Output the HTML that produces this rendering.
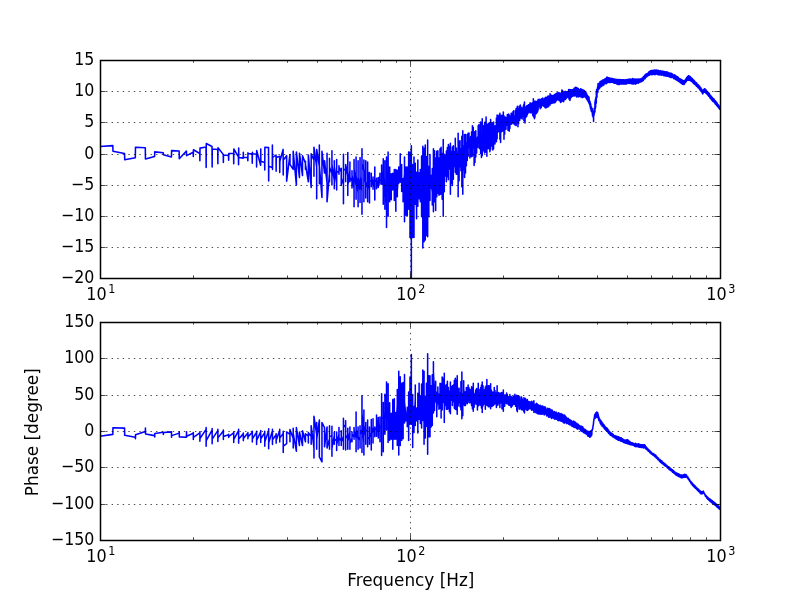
<!DOCTYPE html>
<html><head><meta charset="utf-8"><title>Bode plot</title>
<style>
html,body{margin:0;padding:0;background:#fff;}
body{width:800px;height:600px;overflow:hidden;}
svg{display:block;}
.t{font-family:"DejaVu Sans","Liberation Sans",sans-serif;font-size:16.67px;fill:#000;}
</style></head><body>
<svg width="800" height="600" viewBox="0 0 800 600">
<rect width="800" height="600" fill="#fff"/>
<defs><clipPath id="c1"><rect x="100.00" y="60.00" width="620.00" height="218.18"/></clipPath><clipPath id="c2"><rect x="100.00" y="321.82" width="620.00" height="218.18"/></clipPath></defs>
<path d="M100.00 146.50 L112.83 145.62 L112.98 151.25 L124.55 153.50 L124.70 159.75 L135.32 157.75 L135.47 147.25 L145.30 147.75 L145.45 159.00 L154.59 156.50 L154.74 151.88 L163.28 152.75 L163.43 154.75 L171.44 156.88 L171.59 150.62 L179.13 151.00 L179.28 158.75 L186.41 151.00 L186.56 155.62 L193.20 152.25 L193.32 156.50 L193.44 149.75 L199.77 153.50 L199.89 160.62 L200.01 148.12 L206.03 147.00 L206.15 167.50 L206.27 143.50 L212.02 146.50 L212.14 166.88 L212.26 149.00 L217.75 149.50 L217.87 163.75 L217.99 147.75 L223.24 154.38 L223.36 162.50 L223.48 155.00 L228.52 155.38 L228.64 160.25 L228.76 153.50 L233.60 153.25 L233.72 163.75 L233.84 149.00 L238.44 156.88 L238.56 164.75 L238.68 148.12 L238.80 157.50 L243.22 158.12 L243.34 152.25 L243.46 157.50 L247.73 157.25 L247.85 160.62 L247.97 152.75 L248.09 153.75 L252.14 153.75 L252.26 163.12 L252.38 152.25 L252.50 154.00 L256.48 154.00 L256.60 166.88 L256.72 150.62 L260.62 165.25 L260.74 149.00 L260.86 161.25 L264.64 162.50 L264.76 170.00 L264.88 147.25 L268.54 147.50 L268.66 181.00 L268.78 166.25 L272.27 167.50 L272.39 145.00 L272.51 169.38 L272.63 157.50 L276.02 155.00 L276.14 171.25 L276.26 157.50 L279.61 156.25 L279.73 172.50 L279.85 161.25 L283.11 149.38 L283.23 175.00 L283.35 160.00 L286.64 155.69 L286.64 181.18 L289.96 154.44 L289.96 164.31 L293.21 169.31 L293.21 151.32 L296.38 184.93 L296.38 151.94 L299.47 177.43 L299.47 153.19 L302.50 175.56 L302.50 155.69 L305.45 163.18 L305.45 161.32 L305.45 169.31 L305.45 164.24 L308.35 181.81 L308.35 155.07 L311.18 187.43 L311.18 153.82 L313.96 160.22 L313.96 176.18 L313.96 147.19 L316.68 167.16 L316.68 198.68 L316.68 149.44 L319.35 166.39 L319.35 183.68 L319.35 145.07 L319.35 165.06 L321.96 197.43 L321.96 151.32 L324.53 173.06 L324.53 160.69 L327.04 183.22 L327.04 153.19 L327.04 201.81 L329.51 173.03 L329.51 181.81 L329.51 158.19 L329.51 167.02 L331.94 173.43 L331.94 184.93 L331.94 150.69 L331.94 164.73 L334.32 180.73 L334.32 188.68 L334.32 160.69 L334.32 166.72 L336.66 183.78 L336.66 159.44 L336.66 189.93 L336.66 171.81 L338.96 171.87 L338.96 165.69 L338.96 174.31 L338.96 167.47 L341.23 171.92 L341.23 185.56 L341.23 168.19 L341.23 178.25 L343.45 184.48 L343.45 203.68 L343.45 154.19 L343.45 168.93 L345.64 170.30 L345.64 181.81 L345.64 164.44 L345.64 175.94 L347.80 164.16 L347.80 152.57 L347.80 195.56 L347.80 185.50 L349.92 170.67 L349.92 161.94 L349.92 181.81 L349.92 177.26 L352.00 181.25 L352.00 170.69 L352.00 188.06 L352.00 175.18 L354.06 188.60 L354.06 159.44 L354.06 206.81 L354.06 168.97 L356.08 186.24 L356.08 199.31 L356.08 156.94 L356.08 175.51 L358.08 193.17 L358.08 160.69 L358.08 206.81 L358.08 177.71 L360.04 190.99 L360.04 202.43 L360.04 157.57 L360.04 176.35 L361.98 191.37 L361.98 214.31 L361.98 148.82 L361.98 163.61 L363.89 170.60 L363.89 160.07 L363.89 201.81 L363.89 183.73 L365.77 168.17 L365.77 160.69 L365.77 198.06 L365.77 181.73 L367.63 187.49 L367.63 201.81 L367.63 161.94 L367.63 170.17 L369.46 190.47 L369.46 172.57 L369.46 203.06 L369.46 180.59 L371.27 181.10 L371.27 186.81 L371.27 173.19 L371.27 178.81 L373.05 185.24 L373.05 176.94 L373.05 189.31 L373.05 179.68 L374.81 187.27 L374.81 166.94 L374.81 199.93 L374.81 180.38 L376.55 181.68 L376.55 178.19 L376.55 188.68 L376.55 186.45 L378.26 180.84 L378.26 187.43 L378.26 177.57 L378.26 183.06 L379.96 176.14 L379.96 173.19 L379.96 184.31 L379.96 181.24 L381.63 179.36 L381.63 184.31 L381.63 165.07 L381.63 171.48 L383.28 186.37 L383.28 204.31 L383.28 158.82 L383.28 177.14 L384.91 197.23 L384.91 209.31 L384.91 160.69 L384.91 180.36 L386.53 201.99 L386.53 156.99 L386.53 227.43 L386.53 171.59 L388.12 191.44 L388.12 216.18 L388.12 151.94 L388.12 175.91 L389.69 194.28 L389.69 201.81 L389.69 166.94 L389.69 182.53 L391.25 189.34 L391.25 199.79 L391.25 173.72 L391.25 180.27 L392.79 184.47 L392.79 190.03 L392.79 173.19 L392.79 179.31 L394.31 182.74 L394.31 200.56 L394.31 169.44 L394.31 191.69 L395.82 179.65 L395.82 211.18 L395.82 169.44 L395.82 197.39 L397.30 178.19 L397.30 170.25 L397.30 196.81 L397.30 191.31 L398.77 170.71 L398.77 166.94 L398.77 183.20 L398.77 176.58 L400.23 165.34 L400.23 182.15 L400.23 153.82 L400.23 170.43 L401.67 170.76 L401.67 164.44 L401.67 191.58 L401.67 183.09 L403.09 188.56 L403.09 178.43 L403.09 201.81 L403.09 194.36 L404.50 173.34 L404.50 156.94 L404.50 221.81 L404.50 206.01 L405.90 181.72 L405.90 166.98 L405.90 215.33 L405.90 196.71 L407.28 182.23 L407.28 215.56 L407.28 166.94 L407.28 197.98 L408.65 176.58 L408.65 209.31 L408.65 151.94 L408.65 189.52 L410.00 169.44 L410.00 151.94 L410.00 237.43 L410.00 210.15 L411.34 218.28 L411.34 145.69 L411.34 277.43 L411.34 198.36 L412.67 214.78 L412.67 237.43 L412.67 164.58 L412.67 185.09 L413.98 216.99 L413.98 237.43 L413.98 156.94 L413.98 175.18 L415.28 188.65 L415.28 204.31 L415.28 163.19 L415.28 179.35 L416.57 208.40 L416.57 218.68 L416.57 172.33 L416.57 186.74 L417.84 191.33 L417.84 160.07 L417.84 206.18 L417.84 177.28 L419.11 191.62 L419.11 198.75 L419.11 172.83 L419.11 183.69 L420.36 191.77 L420.36 201.81 L420.36 169.44 L420.36 183.55 L421.60 169.19 L421.60 155.91 L421.60 216.81 L421.60 196.13 L422.83 219.30 L422.83 248.06 L422.83 146.32 L422.83 186.61 L424.05 215.13 L424.05 241.81 L424.05 148.17 L424.05 170.25 L425.26 202.45 L425.26 145.07 L425.26 239.93 L425.26 186.63 L426.45 216.43 L426.45 156.48 L426.45 235.56 L426.45 175.48 L427.64 201.48 L427.64 140.07 L427.64 236.81 L427.64 164.15 L428.82 182.10 L428.82 166.50 L428.82 216.81 L428.82 201.14 L429.98 169.57 L429.98 154.44 L429.98 200.56 L429.98 187.00 L431.14 178.80 L431.14 175.39 L431.14 188.19 L431.14 182.76 L432.28 192.45 L432.28 205.08 L432.28 168.42 L432.28 184.10 L433.42 185.81 L433.42 211.81 L433.42 148.82 L433.42 175.89 L434.55 179.95 L434.55 201.81 L434.55 150.69 L434.55 161.65 L435.66 176.92 L435.66 210.56 L435.66 158.11 L435.66 199.26 L436.77 170.16 L436.77 151.21 L436.77 196.81 L436.77 177.05 L437.87 162.03 L437.87 150.69 L437.87 193.14 L437.87 183.87 L438.96 179.99 L438.96 157.90 L438.96 195.32 L438.96 165.86 L440.04 182.61 L440.04 194.49 L440.04 148.82 L440.04 161.27 L441.11 156.81 L441.11 194.01 L441.11 147.28 L441.11 175.91 L442.18 184.14 L442.18 153.53 L442.18 199.31 L442.18 173.38 L443.24 189.94 L443.24 216.18 L443.24 139.44 L443.24 164.29 L444.28 181.40 L444.28 154.37 L444.28 191.81 L444.28 171.05 L445.32 170.15 L445.32 155.69 L445.32 176.08 L445.32 161.83 L446.35 159.09 L446.35 151.00 L446.35 181.64 L446.35 173.53 L447.38 158.25 L447.38 147.47 L447.38 176.81 L447.38 169.99 L448.39 152.91 L448.39 144.44 L448.39 179.80 L448.39 167.95 L449.40 152.33 L449.40 168.93 L449.40 146.46 L449.40 161.89 L450.40 153.43 L450.40 143.19 L450.40 194.31 L450.40 175.86 L451.40 157.88 L451.40 151.49 L451.40 183.24 L451.40 172.96 L452.38 154.85 L452.38 146.94 L452.38 185.39 L452.38 168.49 L453.36 158.79 L453.36 179.31 L453.36 145.81 L453.36 168.66 L454.33 158.27 L454.33 151.73 L454.33 166.39 L454.33 160.99 L455.30 152.12 L455.30 172.25 L455.30 138.19 L455.30 157.30 L456.26 156.75 L456.26 174.30 L456.26 148.07 L456.26 163.41 L457.21 162.95 L457.21 174.15 L457.21 154.74 L457.21 168.25 L458.15 146.41 L458.15 133.19 L458.15 196.81 L458.15 171.84 L459.09 155.40 L459.09 180.65 L459.09 141.38 L459.09 168.46 L460.02 145.94 L460.02 166.81 L460.02 140.69 L460.02 158.25 L460.95 153.44 L460.95 170.77 L460.95 148.65 L460.95 164.46 L461.87 149.01 L461.87 186.86 L461.87 136.31 L461.87 173.33 L462.78 149.50 L462.78 130.69 L462.78 194.31 L462.78 173.54 L463.69 151.38 L463.69 146.15 L463.69 169.98 L463.69 163.09 L464.59 149.15 L464.59 134.44 L464.59 177.44 L464.59 161.36 L465.48 158.27 L465.48 173.06 L465.48 134.44 L465.48 148.65 L466.37 158.08 L466.37 142.85 L466.37 165.70 L466.37 150.09 L467.25 150.11 L467.25 160.56 L467.25 134.44 L467.25 146.05 L468.13 151.45 L468.13 133.37 L468.13 156.20 L468.13 140.50 L469.00 143.28 L469.00 147.78 L469.00 132.99 L469.00 136.48 L469.87 147.23 L469.87 158.06 L469.87 141.97 L469.87 154.12 L470.73 140.49 L470.73 136.43 L470.73 156.13 L470.73 149.66 L471.58 137.76 L471.58 131.91 L471.58 156.81 L471.58 147.48 L472.43 137.49 L472.43 156.12 L472.43 125.69 L472.43 142.44 L473.28 133.08 L473.28 127.59 L473.28 147.76 L473.28 143.23 L474.12 141.96 L474.12 132.31 L474.12 165.56 L474.12 155.49 L474.95 155.10 L474.95 162.52 L474.95 131.76 L474.95 140.11 L475.78 148.50 L475.78 130.69 L475.78 156.96 L475.78 137.20 L476.60 149.72 L476.60 153.06 L476.60 139.55 L476.60 144.38 L477.42 142.99 L477.42 137.31 L477.42 147.41 L477.42 141.18 L478.23 136.47 L478.23 143.04 L478.23 125.69 L478.23 129.38 L479.04 139.49 L479.04 148.06 L479.04 124.52 L479.04 130.98 L479.85 143.46 L479.85 134.64 L479.85 148.75 L479.85 139.42 L480.64 146.43 L480.64 122.10 L480.64 153.43 L480.64 132.26 L481.44 149.59 L481.44 134.20 L481.44 157.43 L481.44 139.65 L482.23 139.90 L482.23 118.82 L482.23 155.62 L482.23 128.38 L483.01 138.17 L483.01 142.94 L483.01 129.18 L483.01 133.36 L483.79 139.96 L483.79 150.92 L483.79 125.69 L483.79 132.49 L484.57 144.30 L484.57 123.12 L484.57 153.06 L484.57 135.57 L485.34 141.96 L485.34 152.33 L485.34 121.71 L485.34 135.14 L486.11 126.12 L486.11 141.27 L486.11 116.94 L486.11 130.52 L486.87 133.86 L486.87 156.18 L486.87 124.38 L486.87 141.87 L487.63 134.69 L487.63 132.29 L487.63 142.85 L487.63 138.75 L488.38 132.89 L488.38 148.68 L488.38 123.19 L488.38 143.21 L489.13 127.52 L489.13 143.81 L489.13 123.19 L489.13 137.38 L489.88 130.59 L489.88 122.50 L489.88 151.81 L489.88 143.35 L490.62 126.32 L490.62 119.44 L490.62 149.61 L490.62 141.31 L491.36 132.14 L491.36 125.32 L491.36 144.79 L491.36 137.12 L492.09 132.74 L492.09 122.85 L492.09 146.34 L492.09 139.55 L492.82 132.93 L492.82 122.68 L492.82 149.93 L492.82 144.21 L493.55 130.13 L493.55 121.94 L493.55 148.79 L493.55 141.24 L494.27 129.85 L494.27 127.21 L494.27 136.48 L494.27 132.39 L494.99 131.74 L494.99 125.78 L494.99 144.06 L494.99 139.21 L495.70 131.85 L495.70 141.22 L495.70 128.64 L495.70 136.29 L496.41 123.83 L496.41 117.94 L496.41 141.81 L496.41 134.02 L497.12 120.65 L497.12 115.07 L497.12 138.66 L497.12 133.64 L497.82 123.83 L497.82 115.72 L497.82 130.12 L497.82 118.82 L498.52 124.83 L498.52 131.65 L499.22 123.56 L499.22 114.69 L499.22 130.59 L499.22 120.51 L499.91 128.68 L499.91 113.19 L499.91 139.34 L499.91 118.44 L500.60 131.24 L500.60 115.72 L500.60 142.43 L500.60 127.50 L501.28 126.36 L501.28 115.47 L501.28 132.02 L501.28 118.98 L501.97 121.44 L501.97 115.35 L501.97 129.71 L501.97 124.55 L502.64 118.75 L502.64 115.49 L502.64 131.10 L502.64 124.24 L503.32 119.15 L503.32 111.94 L503.32 128.90 L503.32 124.44 L503.99 122.04 L503.99 139.31 L503.99 115.79 L503.99 132.35 L504.66 123.62 L504.66 134.10 L504.66 116.94 L504.66 126.39 L505.32 120.14 L505.32 116.94 L505.32 129.29 L505.32 123.81 L505.99 129.31 L505.99 122.03 L506.64 122.00 L506.64 117.52 L506.64 123.81 L506.64 121.72 L507.30 121.28 L507.30 114.44 L507.30 125.26 L507.30 117.47 L507.95 122.13 L507.95 119.29 L507.95 130.17 L507.95 127.32 L508.60 119.81 L508.60 127.64 L508.60 114.13 L508.60 124.87 L509.25 124.26 L509.25 131.18 L509.25 114.92 L509.25 120.20 L509.89 124.74 L509.89 128.50 L509.89 115.75 L509.89 120.45 L510.53 122.23 L510.53 123.66 L510.53 118.18 L511.16 115.97 L511.16 113.19 L511.16 124.31 L511.16 121.36 L511.80 116.33 L511.80 113.29 L511.80 124.08 L511.80 120.78 L512.43 121.08 L512.43 122.47 L512.43 117.57 L512.43 120.55 L513.06 116.33 L513.06 111.58 L513.06 122.66 L513.06 120.00 L513.68 118.47 L513.68 123.71 L513.68 110.69 L513.68 116.46 L514.30 119.40 L514.30 116.01 L514.30 123.30 L514.92 119.03 L514.92 115.78 L514.92 124.93 L514.92 122.18 L515.54 115.38 L515.54 124.85 L515.54 110.29 L515.54 119.23 L516.15 112.81 L516.15 108.63 L516.15 125.61 L516.15 120.85 L516.76 110.67 L516.76 107.96 L516.76 119.99 L516.76 114.76 L517.37 110.27 L517.37 122.70 L517.37 106.32 L517.37 115.70 L517.97 116.56 L517.97 108.56 L517.97 126.81 L517.97 120.00 L518.58 115.94 L518.58 109.66 L518.58 123.65 L518.58 120.38 L519.18 111.64 L519.18 106.37 L519.18 118.77 L519.18 113.21 L519.77 113.24 L519.77 111.02 L519.77 120.23 L519.77 117.15 L520.37 107.88 L520.37 117.69 L520.37 105.07 L520.37 114.89 L520.96 109.97 L520.96 118.06 L520.96 106.97 L520.96 113.47 L521.55 114.66 L521.55 111.36 L521.55 118.06 L521.55 116.13 L522.14 116.74 L522.14 108.05 L522.14 119.00 L522.14 111.56 L522.72 113.51 L522.72 108.19 L522.72 114.98 L522.72 112.16 L523.30 112.50 L523.30 116.00 L523.30 105.96 L523.30 110.10 L523.88 115.45 L523.88 104.23 L523.88 120.74 L523.88 109.11 L524.46 116.86 L524.46 121.21 L524.46 101.94 L524.46 106.00 L525.03 112.12 L525.03 123.06 L525.03 108.87 L525.03 119.64 L525.60 110.43 L525.60 106.93 L525.60 117.06 L525.60 113.57 L526.17 111.20 L526.17 108.06 L526.17 116.93 L526.17 112.99 L526.74 109.00 L526.74 105.69 L526.74 116.21 L526.74 113.53 L527.30 106.80 L527.30 114.62 L527.87 110.00 L527.87 113.59 L527.87 105.23 L527.87 108.43 L528.43 104.89 L528.43 112.71 L528.98 109.40 L528.98 105.28 L528.98 111.00 L528.98 106.92 L529.54 106.06 L529.54 104.19 L529.54 111.25 L529.54 109.14 L530.09 108.70 L530.09 102.77 L530.09 112.83 L530.09 107.03 L530.64 106.11 L530.64 112.57 L531.19 108.94 L531.19 103.72 L531.19 113.06 L531.19 106.01 L531.74 106.30 L531.74 110.68 L532.28 109.50 L532.28 111.54 L532.28 102.74 L532.28 105.72 L532.82 112.66 L532.82 115.63 L532.82 105.49 L532.82 108.52 L533.36 110.59 L533.36 115.77 L533.36 98.82 L533.36 103.74 L533.90 110.63 L533.90 102.17 L533.90 117.22 L533.90 108.27 L534.43 114.41 L534.43 104.62 L534.43 118.68 L534.43 109.76 L534.97 106.12 L534.97 117.33 L534.97 101.12 L534.97 112.53 L535.50 107.26 L535.50 101.94 L535.50 110.71 L535.50 105.13 L536.03 104.67 L536.03 113.76 L536.03 101.54 L536.03 109.35 L536.55 105.90 L536.55 113.35 L536.55 103.63 L536.55 110.13 L537.08 109.14 L537.08 112.41 L537.08 101.15 L537.08 105.86 L537.60 107.11 L537.60 111.81 L537.60 101.31 L537.60 105.10 L538.12 106.39 L538.12 109.95 L538.12 99.44 L538.12 104.01 L538.64 106.11 L538.64 99.96 L539.16 99.30 L539.16 106.49 L539.67 99.53 L539.67 106.96 L540.19 104.78 L540.19 108.68 L540.19 99.77 L540.19 103.53 L540.70 105.82 L540.70 101.40 L540.70 107.98 L541.21 100.73 L541.21 98.92 L541.21 107.54 L541.21 104.16 L541.71 103.69 L541.71 105.97 L541.71 99.48 L542.22 100.95 L542.22 105.55 L542.22 98.62 L542.22 102.77 L542.72 100.44 L542.72 97.98 L542.72 105.39 L543.22 99.43 L543.22 105.67 L543.72 99.23 L543.72 106.22 L544.22 102.75 L544.22 101.08 L544.22 104.75 L544.72 103.35 L544.72 98.42 L544.72 107.08 L544.72 102.12 L545.21 100.49 L545.21 97.57 L545.21 107.79 L545.21 105.56 L545.70 105.06 L545.70 108.06 L545.70 97.24 L545.70 101.12 L546.19 103.17 L546.19 100.06 L546.19 107.75 L546.19 105.61 L546.68 100.86 L546.68 107.55 L547.17 101.10 L547.17 107.25 L547.17 96.95 L547.17 104.80 L547.65 103.51 L547.65 96.32 L548.14 106.58 L548.14 99.05 L548.62 99.02 L548.62 106.81 L548.62 95.99 L548.62 102.93 L549.10 102.26 L549.10 96.60 L549.58 101.45 L549.58 104.75 L549.58 97.78 L549.58 99.88 L550.05 96.08 L550.05 93.82 L550.05 105.10 L550.05 100.50 L550.53 98.79 L550.53 97.44 L550.53 100.18 L551.00 100.64 L551.00 95.15 L551.00 102.65 L551.00 97.65 L551.47 100.90 L551.47 103.57 L551.47 95.38 L551.47 97.24 L551.94 95.47 L551.94 102.28 L552.41 96.14 L552.41 102.96 L552.88 99.46 L552.88 95.79 L552.88 103.12 L552.88 98.83 L553.34 100.39 L553.34 95.64 L553.34 102.65 L553.81 100.93 L553.81 102.82 L553.81 95.55 L554.27 102.51 L554.27 94.87 L554.73 98.44 L554.73 96.04 L554.73 102.69 L554.73 100.31 L555.19 99.39 L555.19 94.21 L555.19 102.41 L555.19 96.92 L555.64 99.29 L555.64 94.27 L555.64 101.87 L555.64 95.95 L556.10 93.51 L556.10 101.01 L556.55 100.05 L556.55 93.41 L557.01 99.31 L557.01 93.57 L557.46 99.68 L557.46 92.86 L557.91 95.30 L557.91 99.37 L557.91 93.46 L557.91 97.34 L558.36 99.72 L558.36 93.68 L558.80 95.90 L558.80 92.46 L558.80 100.21 L559.25 94.23 L559.25 100.81 L559.69 97.70 L559.69 94.28 L560.13 95.41 L560.13 93.09 L560.13 97.46 L560.57 95.74 L560.57 102.43 L561.01 93.93 L561.01 100.44 L561.45 95.33 L561.45 101.75 L561.89 90.07 L561.89 96.86 L562.32 97.82 L562.32 90.35 L562.32 100.66 L562.32 93.32 L562.76 95.08 L562.76 91.14 L562.76 98.73 L562.76 93.44 L563.19 95.84 L563.19 101.43 L563.19 92.08 L563.19 99.04 L563.62 96.70 L563.62 92.67 L563.62 101.81 L563.62 98.21 L564.05 98.06 L564.05 93.68 L564.48 97.68 L564.48 91.81 L564.90 96.00 L564.90 91.45 L564.90 99.72 L564.90 94.59 L565.33 95.03 L565.33 91.43 L565.33 99.42 L565.75 92.74 L565.75 91.61 L565.75 97.55 L565.75 95.94 L566.18 92.25 L566.18 98.59 L566.60 92.33 L566.60 97.02 L567.02 97.04 L567.02 91.76 L567.44 94.75 L567.44 96.61 L567.44 91.73 L567.85 97.41 L567.85 91.48 L568.27 97.06 L568.27 91.44 L568.68 95.11 L568.68 97.87 L568.68 89.44 L568.68 92.18 L569.10 96.09 L569.10 93.25 L569.10 99.20 L569.51 97.78 L569.51 93.20 L569.51 98.77 L569.92 95.63 L569.92 100.56 L569.92 89.44 L569.92 93.36 L570.33 96.46 L570.33 93.75 L570.33 99.08 L570.33 96.36 L570.74 89.66 L570.74 96.62 L571.15 89.90 L571.15 97.58 L571.55 90.17 L571.55 96.24 L571.96 89.69 L571.96 96.23 L572.36 89.80 L572.36 96.45 L572.76 90.51 L572.76 95.40 L573.17 93.01 L573.17 89.41 L573.17 95.30 L573.17 93.55 L573.57 93.69 L573.57 89.89 L573.57 95.86 L573.96 88.78 L573.96 95.75 L574.36 92.61 L574.36 88.08 L574.36 95.51 L574.36 91.11 L574.76 89.34 L574.76 95.94 L575.15 88.26 L575.15 95.76 L575.55 93.57 L575.55 87.24 L575.55 95.36 L575.55 89.77 L575.94 87.89 L575.94 95.86 L576.33 92.35 L576.33 87.50 L576.33 95.75 L576.33 89.18 L576.72 89.00 L576.72 96.89 L577.11 87.83 L577.11 95.61 L577.50 93.60 L577.50 89.63 L577.50 95.64 L577.89 91.83 L577.89 89.72 L577.89 96.16 L578.28 94.95 L578.28 88.58 L578.28 97.03 L578.28 90.44 L578.66 89.92 L578.66 96.72 L579.05 89.63 L579.05 96.20 L579.43 92.36 L579.43 89.78 L579.43 95.92 L579.43 94.08 L579.81 91.19 L579.81 90.00 L579.81 96.19 L580.19 95.69 L580.19 90.03 L580.19 96.82 L580.57 92.14 L580.57 88.87 L580.57 96.77 L580.95 90.06 L580.95 96.10 L581.33 90.56 L581.33 89.32 L581.33 96.22 L581.33 94.38 L581.70 95.15 L581.70 89.99 L581.70 96.90 L582.08 97.53 L582.08 90.39 L582.45 96.18 L582.45 90.29 L582.83 91.99 L582.83 89.43 L582.83 97.56 L582.83 95.51 L583.20 94.00 L583.20 96.43 L583.20 90.95 L583.20 95.21 L583.57 96.95 L583.57 90.67 L583.94 97.09 L583.94 91.29 L584.31 91.64 L584.31 95.89 L584.31 90.42 L584.68 96.62 L584.68 90.96 L585.05 94.61 L585.05 96.20 L585.05 92.69 L585.41 95.99 L585.41 92.14 L585.78 93.07 L585.78 91.85 L585.78 97.72 L586.14 96.94 L586.14 93.64 L586.14 97.83 L586.51 95.09 L586.51 93.18 L586.51 98.97 L586.87 96.40 L586.87 94.56 L586.87 98.53 L586.87 95.60 L587.23 96.76 L587.23 99.90 L587.23 95.23 L587.23 97.08 L587.59 98.27 L587.59 95.90 L587.59 99.28 L587.95 99.90 L587.95 101.33 L587.95 96.89 L588.31 101.34 L588.31 96.35 L588.67 98.64 L588.67 96.78 L588.67 102.64 L589.02 103.20 L589.02 97.33 L589.38 103.93 L589.38 100.12 L589.73 103.01 L589.73 105.02 L589.73 101.25 L589.73 102.72 L590.09 103.15 L590.09 101.65 L590.09 106.56 L590.44 103.23 L590.44 108.70 L590.79 104.02 L590.79 108.35 L591.14 107.60 L591.14 106.78 L591.14 111.08 L591.49 106.67 L591.49 111.47 L591.84 109.87 L591.84 109.39 L591.84 111.59 L591.84 110.16 L592.19 112.50 L592.19 108.59 L592.19 113.28 L592.19 109.35 L592.54 115.92 L592.54 110.30 L592.88 115.71 L592.88 111.63 L593.23 113.23 L593.23 112.08 L593.23 117.65 L593.57 117.91 L593.57 121.43 L593.57 112.19 L593.57 114.52 L593.92 112.96 L593.92 111.86 L593.92 115.65 L594.26 112.27 L594.26 113.91 L594.26 108.11 L594.26 110.34 L594.60 111.84 L594.60 108.16 L594.60 112.84 L594.60 110.42 L594.95 107.83 L594.95 101.94 L594.95 111.81 L594.95 105.97 L595.29 104.82 L595.29 99.96 L595.29 108.77 L595.29 102.87 L595.63 105.13 L595.63 98.69 L595.63 107.23 L595.63 102.25 L595.96 98.46 L595.96 97.16 L595.96 103.91 L595.96 102.30 L596.30 99.48 L596.30 103.06 L596.30 91.94 L596.30 95.64 L596.64 89.63 L596.64 95.52 L596.97 97.23 L596.97 90.81 L597.31 90.89 L597.31 92.15 L597.31 88.64 L597.31 89.42 L597.64 86.88 L597.64 92.58 L597.98 90.98 L597.98 83.71 L598.31 84.34 L598.31 89.50 L598.64 85.78 L598.64 83.69 L598.64 88.57 L598.97 85.86 L598.97 83.21 L598.97 89.02 L598.97 88.07 L599.30 84.61 L599.30 83.91 L599.30 87.66 L599.30 85.83 L599.63 83.60 L599.63 88.32 L599.96 82.78 L599.96 81.81 L599.96 87.67 L599.96 83.26 L600.29 85.44 L600.29 82.77 L600.29 86.49 L600.29 85.63 L600.62 81.28 L600.62 86.67 L600.94 84.50 L600.94 82.52 L600.94 86.38 L600.94 84.27 L601.27 82.47 L601.27 81.22 L601.27 86.57 L601.27 84.25 L601.59 81.35 L601.59 86.35 L601.92 80.49 L601.92 86.06 L602.24 80.91 L602.24 84.95 L602.56 80.98 L602.56 85.31 L602.89 80.09 L602.89 85.44 L603.21 80.10 L603.21 84.21 L603.53 81.93 L603.53 80.91 L603.53 84.84 L603.53 81.68 L603.85 79.92 L603.85 84.94 L604.17 79.44 L604.17 83.45 L604.48 82.77 L604.48 79.95 L604.48 83.84 L604.80 82.41 L604.80 79.90 L604.80 83.49 L604.80 82.22 L605.12 83.18 L605.12 78.72 L605.43 82.38 L605.43 83.51 L605.43 79.76 L605.75 83.57 L605.75 78.59 L606.06 83.56 L606.06 78.63 L606.38 79.60 L606.38 83.76 L606.38 78.20 L606.69 81.10 L606.69 82.41 L606.69 77.35 L606.69 81.08 L607.00 78.21 L607.00 83.12 L607.00 77.29 L607.31 82.18 L607.31 77.54 L607.62 82.51 L607.62 77.35 L607.93 82.46 L607.93 78.22 L608.24 82.56 L608.24 77.72 L608.55 81.82 L608.55 77.97 L608.86 79.76 L608.86 81.80 L608.86 77.65 L608.86 78.59 L609.16 81.98 L609.16 78.35 L609.47 79.18 L609.47 82.36 L609.47 77.93 L609.78 82.56 L609.78 78.46 L610.08 79.36 L610.08 82.62 L610.08 78.78 L610.08 80.17 L610.39 78.58 L610.39 82.14 L610.69 78.73 L610.69 82.32 L610.99 82.03 L610.99 78.18 L611.29 79.71 L611.29 82.22 L611.29 79.10 L611.60 82.10 L611.60 78.55 L611.90 82.27 L611.90 79.34 L612.20 82.27 L612.20 79.39 L612.50 79.71 L612.50 81.86 L612.50 78.45 L612.50 81.10 L612.79 82.25 L612.79 78.83 L613.09 82.15 L613.09 79.01 L613.39 80.86 L613.39 79.56 L613.39 82.79 L613.39 80.47 L613.69 82.48 L613.69 79.04 L613.98 83.08 L613.98 78.84 L614.28 79.18 L614.28 83.02 L614.57 79.75 L614.57 83.26 L614.87 82.49 L614.87 79.96 L615.16 83.27 L615.16 80.16 L615.45 82.75 L615.45 79.21 L615.75 82.96 L615.75 79.40 L616.04 81.34 L616.04 83.47 L616.04 79.81 L616.33 79.57 L616.33 83.42 L616.62 80.06 L616.62 83.87 L616.91 79.35 L616.91 83.72 L617.20 79.83 L617.20 83.05 L617.49 79.71 L617.49 84.27 L617.78 82.67 L617.78 80.25 L617.78 83.51 L618.06 79.68 L618.06 84.36 L618.35 84.40 L618.35 79.53 L618.64 82.82 L618.64 79.89 L618.64 83.87 L618.92 81.55 L618.92 79.81 L618.92 84.22 L618.92 80.48 L619.21 84.37 L619.21 80.50 L619.49 81.21 L619.49 84.55 L619.49 79.80 L619.78 83.74 L619.78 79.60 L620.06 82.63 L620.06 83.37 L620.06 79.61 L620.34 83.74 L620.34 80.55 L620.62 82.31 L620.62 80.15 L620.62 83.31 L620.90 80.52 L620.90 84.11 L621.18 79.82 L621.18 84.31 L621.46 79.68 L621.46 83.46 L621.74 80.06 L621.74 83.14 L622.02 80.21 L622.02 83.83 L622.30 80.33 L622.30 83.50 L622.58 79.88 L622.58 83.79 L622.86 83.68 L622.86 80.37 L623.13 79.73 L623.13 84.13 L623.41 80.39 L623.41 83.05 L623.69 82.78 L623.69 83.57 L623.69 79.76 L623.96 83.44 L623.96 80.65 L624.24 81.23 L624.24 83.21 L624.24 80.46 L624.24 82.10 L624.51 84.02 L624.51 80.64 L624.78 83.23 L624.78 79.75 L625.06 82.39 L625.06 80.53 L625.06 83.93 L625.06 82.53 L625.33 80.38 L625.33 83.14 L625.60 83.52 L625.60 79.89 L625.87 82.25 L625.87 80.69 L625.87 84.10 L626.14 79.54 L626.14 83.16 L626.41 81.55 L626.41 80.32 L626.41 83.50 L626.68 81.40 L626.68 82.99 L626.68 80.52 L626.95 81.37 L626.95 79.91 L626.95 83.79 L626.95 81.74 L627.22 82.52 L627.22 80.53 L627.22 82.95 L627.22 81.94 L627.49 80.78 L627.49 79.47 L627.49 83.13 L627.49 81.48 L627.75 79.93 L627.75 83.12 L628.02 79.54 L628.02 83.04 L628.29 79.96 L628.29 83.31 L628.55 79.44 L628.55 82.70 L628.82 79.29 L628.82 83.08 L629.08 79.82 L629.08 83.54 L629.35 81.28 L629.35 79.18 L629.35 83.10 L629.61 79.18 L629.61 82.42 L629.87 81.46 L629.87 79.21 L629.87 82.47 L630.14 79.02 L630.14 83.35 L630.40 81.96 L630.40 79.27 L630.40 82.75 L630.40 81.30 L630.66 79.56 L630.66 82.53 L630.92 80.52 L630.92 79.79 L630.92 82.88 L631.18 82.89 L631.18 80.01 L631.44 83.74 L631.44 79.81 L631.70 82.85 L631.70 79.32 L631.96 83.79 L631.96 79.77 L632.22 81.42 L632.22 82.92 L632.22 78.85 L632.22 81.76 L632.48 81.18 L632.48 78.64 L632.48 83.71 L632.48 82.50 L632.74 78.67 L632.74 84.00 L632.99 78.86 L632.99 83.13 L633.25 79.11 L633.25 84.00 L633.51 79.17 L633.51 83.66 L633.76 83.84 L633.76 79.49 L634.02 83.38 L634.02 78.91 L634.27 82.94 L634.27 83.57 L634.27 79.50 L634.53 83.11 L634.53 79.80 L634.78 83.21 L634.78 79.15 L635.03 81.88 L635.03 83.29 L635.03 79.82 L635.29 84.20 L635.29 79.35 L635.54 83.96 L635.54 79.32 L635.79 83.68 L635.79 80.01 L636.04 82.14 L636.04 83.80 L636.04 78.93 L636.04 81.54 L636.29 80.04 L636.29 82.89 L636.29 79.30 L636.54 83.55 L636.54 80.15 L636.79 82.77 L636.79 79.49 L637.04 80.82 L637.04 82.94 L637.04 79.21 L637.29 81.94 L637.29 79.96 L637.29 82.93 L637.54 78.99 L637.54 82.66 L637.79 79.55 L637.79 82.50 L638.04 79.80 L638.04 82.70 L638.28 80.91 L638.28 79.40 L638.28 83.33 L638.53 82.04 L638.53 82.75 L638.53 79.22 L638.53 81.15 L638.78 82.50 L638.78 78.99 L639.02 79.10 L639.02 82.25 L639.27 81.20 L639.27 79.60 L639.27 82.41 L639.51 81.26 L639.51 79.24 L639.51 82.16 L639.76 80.01 L639.76 82.32 L640.00 81.19 L640.00 78.98 L640.00 82.18 L640.00 80.27 L640.24 81.75 L640.24 79.21 L640.49 79.47 L640.49 81.85 L640.73 79.62 L640.73 78.94 L640.73 81.52 L640.97 80.19 L640.97 78.82 L640.97 81.13 L640.97 79.72 L641.22 78.88 L641.22 81.74 L641.46 78.91 L641.46 81.53 L641.70 79.05 L641.70 80.79 L641.94 78.31 L641.94 81.49 L642.18 79.45 L642.18 78.79 L642.18 81.33 L642.18 80.70 L642.42 77.75 L642.42 80.45 L642.66 79.79 L642.66 78.32 L642.66 80.92 L642.90 79.13 L642.90 78.13 L642.90 80.62 L642.90 79.86 L643.14 77.07 L643.14 79.60 L643.37 77.77 L643.37 80.38 L643.61 77.65 L643.61 79.34 L643.61 76.57 L643.85 77.68 L643.85 77.19 L643.85 78.75 L644.08 75.94 L644.08 79.08 L644.32 76.84 L644.32 79.07 L644.56 75.94 L644.56 79.00 L644.79 75.32 L644.79 78.55 L645.03 76.11 L645.03 77.69 L645.26 74.81 L645.26 78.45 L645.50 76.08 L645.50 74.52 L645.50 77.46 L645.73 75.47 L645.73 77.01 L645.96 76.18 L645.96 75.28 L645.96 77.34 L645.96 75.80 L646.20 74.01 L646.20 76.85 L646.43 76.31 L646.43 77.08 L646.43 74.10 L646.43 76.18 L646.66 76.30 L646.66 73.72 L646.89 76.25 L646.89 76.82 L646.89 74.56 L647.13 75.72 L647.13 76.36 L647.13 74.40 L647.36 75.03 L647.36 75.90 L647.36 73.58 L647.59 76.07 L647.59 73.57 L647.82 74.20 L647.82 75.60 L647.82 73.59 L647.82 74.09 L648.05 75.45 L648.05 73.19 L648.28 74.81 L648.28 75.37 L648.28 73.31 L648.28 74.91 L648.51 75.31 L648.51 72.24 L648.74 75.47 L648.74 72.26 L648.96 75.00 L648.96 71.87 L649.19 72.48 L649.19 74.43 L649.42 71.63 L649.42 74.73 L649.65 75.01 L649.65 71.81 L649.87 71.22 L649.87 74.07 L650.10 71.23 L650.10 74.09 L650.33 72.35 L650.33 70.96 L650.33 74.16 L650.33 72.89 L650.55 73.78 L650.55 70.82 L650.55 74.53 L650.55 71.87 L650.78 72.48 L650.78 71.23 L650.78 74.52 L651.00 70.81 L651.00 74.32 L651.23 71.04 L651.23 74.37 L651.45 72.90 L651.45 71.37 L651.45 74.38 L651.67 73.19 L651.67 74.40 L651.67 71.17 L651.90 74.72 L651.90 71.18 L652.12 71.02 L652.12 73.94 L652.12 70.35 L652.34 72.55 L652.34 74.76 L652.34 70.79 L652.34 73.01 L652.57 71.17 L652.57 73.77 L652.79 72.50 L652.79 71.35 L652.79 74.47 L652.79 72.38 L653.01 71.44 L653.01 70.82 L653.01 74.17 L653.01 72.03 L653.23 71.10 L653.23 73.74 L653.45 72.60 L653.45 70.57 L653.45 74.19 L653.45 72.04 L653.67 70.35 L653.67 73.64 L653.89 70.58 L653.89 74.04 L654.11 70.93 L654.11 73.75 L654.33 73.21 L654.33 71.11 L654.33 74.62 L654.33 71.76 L654.55 73.18 L654.55 73.96 L654.55 70.14 L654.55 72.21 L654.77 71.78 L654.77 73.86 L654.77 70.63 L654.77 71.59 L654.99 70.94 L654.99 73.55 L654.99 70.20 L655.21 72.13 L655.21 74.14 L655.21 71.14 L655.42 74.55 L655.42 70.18 L655.64 72.24 L655.64 73.91 L655.64 70.26 L655.64 71.20 L655.86 70.35 L655.86 73.60 L656.08 69.99 L656.08 74.15 L656.29 72.53 L656.29 70.53 L656.29 73.73 L656.29 71.26 L656.51 70.15 L656.51 73.50 L656.72 70.45 L656.72 73.70 L656.94 71.09 L656.94 73.91 L657.15 73.14 L657.15 71.15 L657.15 73.64 L657.37 71.27 L657.37 74.27 L657.58 70.68 L657.58 74.41 L657.80 72.30 L657.80 74.07 L657.80 70.26 L658.01 74.73 L658.01 70.75 L658.22 74.37 L658.22 70.92 L658.44 74.43 L658.44 71.38 L658.65 70.40 L658.65 73.80 L658.86 70.87 L658.86 74.68 L659.07 74.67 L659.07 70.83 L659.28 73.15 L659.28 74.92 L659.28 71.44 L659.49 74.69 L659.49 71.22 L659.71 73.59 L659.71 74.37 L659.71 70.91 L659.92 74.31 L659.92 70.76 L660.13 72.78 L660.13 71.24 L660.13 73.88 L660.13 72.91 L660.34 73.47 L660.34 70.97 L660.34 74.11 L660.34 71.47 L660.55 72.23 L660.55 74.63 L660.55 71.10 L660.75 70.83 L660.75 74.74 L660.96 72.90 L660.96 71.86 L660.96 74.00 L661.17 72.55 L661.17 71.82 L661.17 74.34 L661.17 73.30 L661.38 73.08 L661.38 71.71 L661.38 75.17 L661.38 72.62 L661.59 73.67 L661.59 74.43 L661.59 71.62 L661.59 73.88 L661.80 73.22 L661.80 74.37 L661.80 71.75 L661.80 72.94 L662.00 73.91 L662.00 74.36 L662.00 71.84 L662.00 73.16 L662.21 74.29 L662.21 71.08 L662.42 73.06 L662.42 74.94 L662.42 71.22 L662.62 74.12 L662.62 75.06 L662.62 71.87 L662.62 73.87 L662.83 72.05 L662.83 75.08 L663.03 71.81 L663.03 74.61 L663.24 71.28 L663.24 74.68 L663.45 71.45 L663.45 75.27 L663.65 71.56 L663.65 74.90 L663.85 73.11 L663.85 72.10 L663.85 75.72 L663.85 73.33 L664.06 71.77 L664.06 75.55 L664.26 74.28 L664.26 71.98 L664.26 74.72 L664.26 72.75 L664.47 75.27 L664.47 71.62 L664.67 73.15 L664.67 75.65 L664.67 72.44 L664.67 74.17 L664.87 75.55 L664.87 72.14 L665.07 73.61 L665.07 75.52 L665.07 72.32 L665.28 75.47 L665.28 72.07 L665.48 76.07 L665.48 72.83 L665.68 75.12 L665.68 72.61 L665.88 72.72 L665.88 75.10 L665.88 71.92 L666.08 74.23 L666.08 75.81 L666.08 71.86 L666.28 75.10 L666.28 75.68 L666.28 72.20 L666.28 74.30 L666.48 75.92 L666.48 72.71 L666.68 75.74 L666.68 72.14 L666.88 72.61 L666.88 75.42 L667.08 72.10 L667.08 76.16 L667.28 75.43 L667.28 72.46 L667.48 76.14 L667.48 72.44 L667.68 76.12 L667.68 73.27 L667.88 74.24 L667.88 75.80 L667.88 72.41 L668.08 74.53 L668.08 76.31 L668.08 72.60 L668.28 72.63 L668.28 75.87 L668.47 74.09 L668.47 73.49 L668.47 76.52 L668.67 73.94 L668.67 73.22 L668.67 76.39 L668.87 75.39 L668.87 73.61 L668.87 76.17 L668.87 74.70 L669.06 73.39 L669.06 76.57 L669.26 73.59 L669.26 76.39 L669.46 75.00 L669.46 73.00 L669.46 76.99 L669.65 74.46 L669.65 73.33 L669.65 76.63 L669.85 75.92 L669.85 73.69 L669.85 76.98 L669.85 75.33 L670.04 73.80 L670.04 76.32 L670.24 74.57 L670.24 73.62 L670.24 76.41 L670.43 74.78 L670.43 73.81 L670.43 76.97 L670.63 75.54 L670.63 74.03 L670.63 76.38 L670.63 74.50 L670.82 73.31 L670.82 77.38 L671.02 73.55 L671.02 76.77 L671.21 73.39 L671.21 76.73 L671.40 74.18 L671.40 77.27 L671.60 75.72 L671.60 74.26 L671.60 77.53 L671.79 74.30 L671.79 76.94 L671.98 76.20 L671.98 74.57 L671.98 76.55 L671.98 75.33 L672.17 75.38 L672.17 77.27 L672.17 73.72 L672.36 74.28 L672.36 77.54 L672.56 74.72 L672.56 77.43 L672.75 76.94 L672.75 74.26 L672.75 77.48 L672.75 76.43 L672.94 75.15 L672.94 77.39 L673.13 75.18 L673.13 77.49 L673.32 75.01 L673.32 77.27 L673.51 75.43 L673.51 77.60 L673.70 75.38 L673.70 78.10 L673.89 78.61 L673.89 75.54 L674.08 77.47 L674.08 78.84 L674.08 74.96 L674.08 78.11 L674.27 78.09 L674.27 75.28 L674.46 76.51 L674.46 78.81 L674.46 74.87 L674.46 75.49 L674.65 75.91 L674.65 78.61 L674.83 75.48 L674.83 78.52 L675.02 75.51 L675.02 78.28 L675.21 75.59 L675.21 78.92 L675.40 77.06 L675.40 78.70 L675.40 75.55 L675.59 79.40 L675.59 76.45 L675.77 76.81 L675.77 79.09 L675.96 76.32 L675.96 78.99 L676.15 76.08 L676.15 78.89 L676.33 79.38 L676.33 77.21 L676.33 79.92 L676.33 78.83 L676.52 78.97 L676.52 80.12 L676.52 76.53 L676.52 77.33 L676.70 80.21 L676.70 77.19 L676.89 77.72 L676.89 79.49 L676.89 77.41 L677.08 80.08 L677.08 77.57 L677.26 78.22 L677.26 80.15 L677.26 76.78 L677.45 78.31 L677.45 79.93 L677.45 76.87 L677.63 77.21 L677.63 80.53 L677.81 77.20 L677.81 80.30 L678.00 79.18 L678.00 80.38 L678.00 77.57 L678.18 77.34 L678.18 81.32 L678.37 79.84 L678.37 78.00 L678.37 81.05 L678.55 79.86 L678.55 78.52 L678.55 80.57 L678.73 78.71 L678.73 81.27 L678.91 78.66 L678.91 81.60 L679.10 80.38 L679.10 78.47 L679.10 80.85 L679.10 80.10 L679.28 79.25 L679.28 81.25 L679.46 79.50 L679.46 78.46 L679.46 81.21 L679.64 79.37 L679.64 81.44 L679.83 79.17 L679.83 82.07 L680.01 80.48 L680.01 79.32 L680.01 81.99 L680.19 79.82 L680.19 82.64 L680.37 79.90 L680.37 79.10 L680.37 82.02 L680.55 79.73 L680.55 82.10 L680.73 82.34 L680.73 79.85 L680.73 82.86 L680.91 79.93 L680.91 82.52 L681.09 80.12 L681.09 82.92 L681.09 79.28 L681.09 81.09 L681.27 83.15 L681.27 80.21 L681.45 81.82 L681.45 82.77 L681.45 79.99 L681.45 80.59 L681.63 81.99 L681.63 80.03 L681.63 82.72 L681.63 80.86 L681.81 81.07 L681.81 80.70 L681.81 83.03 L681.81 81.36 L681.99 80.05 L681.99 83.16 L682.16 80.09 L682.16 82.89 L682.34 80.16 L682.34 84.17 L682.52 81.04 L682.52 84.14 L682.70 81.72 L682.70 80.42 L682.70 84.13 L682.87 82.19 L682.87 80.66 L682.87 84.31 L683.05 83.61 L683.05 81.06 L683.23 80.63 L683.23 84.23 L683.41 84.29 L683.41 80.84 L683.58 84.53 L683.58 80.81 L683.76 83.39 L683.76 84.18 L683.76 80.91 L683.76 83.60 L683.94 81.79 L683.94 83.75 L683.94 80.88 L683.94 81.65 L684.11 83.77 L684.11 84.51 L684.11 80.87 L684.29 83.79 L684.29 80.78 L684.46 81.45 L684.46 82.89 L684.46 80.91 L684.64 83.77 L684.64 81.11 L684.81 81.32 L684.81 82.80 L684.81 80.82 L684.81 82.23 L684.99 82.23 L684.99 80.84 L685.16 80.40 L685.16 81.91 L685.34 79.59 L685.34 82.52 L685.51 79.96 L685.51 82.51 L685.68 81.00 L685.68 80.02 L685.68 81.70 L685.68 80.53 L685.86 78.86 L685.86 80.86 L686.03 78.84 L686.03 81.42 L686.20 79.92 L686.20 79.10 L686.20 81.60 L686.38 78.73 L686.38 81.20 L686.55 77.81 L686.55 80.51 L686.72 78.75 L686.72 77.62 L686.72 80.21 L686.89 78.22 L686.89 79.53 L687.07 78.86 L687.07 80.34 L687.07 78.05 L687.07 78.86 L687.24 79.39 L687.24 79.94 L687.24 77.77 L687.41 79.05 L687.41 80.28 L687.41 77.12 L687.41 78.89 L687.58 77.73 L687.58 77.35 L687.58 79.25 L687.75 76.26 L687.75 79.55 L687.92 78.76 L687.92 76.63 L687.92 80.26 L688.09 78.97 L688.09 76.72 L688.09 80.32 L688.26 76.96 L688.26 75.96 L688.26 79.16 L688.26 77.40 L688.43 78.95 L688.43 75.97 L688.43 79.79 L688.60 76.12 L688.60 79.47 L688.77 80.19 L688.77 75.99 L688.94 79.11 L688.94 76.35 L689.11 75.89 L689.11 79.68 L689.28 78.37 L689.28 76.97 L689.28 79.31 L689.45 78.16 L689.45 77.11 L689.45 80.03 L689.45 78.07 L689.62 76.81 L689.62 79.23 L689.79 76.86 L689.79 79.36 L689.96 78.24 L689.96 77.19 L689.96 80.32 L689.96 79.22 L690.13 76.52 L690.13 80.32 L690.29 77.25 L690.29 80.21 L690.46 80.53 L690.46 76.86 L690.63 78.90 L690.63 79.99 L690.63 77.84 L690.63 78.45 L690.80 79.75 L690.80 77.70 L690.80 80.93 L690.96 77.47 L690.96 80.18 L691.13 78.86 L691.13 78.21 L691.13 80.30 L691.30 79.89 L691.30 81.23 L691.30 78.20 L691.46 81.22 L691.46 77.98 L691.63 80.32 L691.63 81.40 L691.63 78.73 L691.80 81.57 L691.80 79.11 L691.96 80.15 L691.96 81.06 L691.96 78.47 L692.13 81.77 L692.13 78.73 L692.29 78.58 L692.29 81.70 L692.46 80.68 L692.46 78.93 L692.46 82.33 L692.62 81.72 L692.62 79.49 L692.79 80.32 L692.79 82.01 L692.79 79.32 L692.95 82.04 L692.95 82.53 L692.95 80.11 L693.12 80.55 L693.12 82.59 L693.12 79.48 L693.12 80.02 L693.28 83.15 L693.28 80.60 L693.45 82.54 L693.45 80.58 L693.61 83.57 L693.61 80.99 L693.77 83.60 L693.77 80.09 L693.94 81.64 L693.94 83.45 L693.94 81.08 L693.94 81.84 L694.10 83.81 L694.10 80.47 L694.26 82.55 L694.26 83.56 L694.26 81.64 L694.43 84.21 L694.43 80.81 L694.59 83.80 L694.59 84.30 L694.59 81.12 L694.59 81.93 L694.75 84.56 L694.75 81.37 L694.91 82.41 L694.91 83.90 L694.91 82.13 L695.08 83.96 L695.08 82.38 L695.24 84.81 L695.24 81.91 L695.40 84.93 L695.40 82.72 L695.56 84.03 L695.56 84.62 L695.56 82.89 L695.56 84.06 L695.72 84.96 L695.72 82.26 L695.88 84.30 L695.88 84.92 L695.88 82.52 L695.88 84.31 L696.04 84.94 L696.04 82.44 L696.21 84.29 L696.21 85.57 L696.21 83.48 L696.37 86.13 L696.37 83.64 L696.53 83.35 L696.53 85.59 L696.53 82.79 L696.69 86.15 L696.69 83.16 L696.85 85.80 L696.85 83.83 L697.01 84.28 L697.01 86.34 L697.17 83.98 L697.17 86.69 L697.33 83.99 L697.33 86.20 L697.48 84.42 L697.48 86.99 L697.64 85.43 L697.64 84.86 L697.64 86.72 L697.64 86.11 L697.80 85.42 L697.80 84.30 L697.80 86.77 L697.96 85.30 L697.96 87.74 L698.12 85.64 L698.12 85.01 L698.12 87.54 L698.12 87.08 L698.28 86.89 L698.28 87.35 L698.28 85.18 L698.44 88.02 L698.44 85.74 L698.59 86.77 L698.59 87.54 L698.59 85.97 L698.75 88.02 L698.75 85.27 L698.91 88.42 L698.91 85.62 L699.07 88.23 L699.07 85.90 L699.22 86.66 L699.22 88.53 L699.22 85.90 L699.38 87.40 L699.38 88.59 L699.38 86.78 L699.38 88.12 L699.54 86.64 L699.54 88.51 L699.54 86.14 L699.69 89.67 L699.69 87.08 L699.85 88.00 L699.85 87.39 L699.85 89.74 L700.01 87.03 L700.01 90.03 L700.16 87.46 L700.16 90.20 L700.32 90.05 L700.32 88.18 L700.47 89.97 L700.47 87.34 L700.63 88.46 L700.63 90.18 L700.63 87.87 L700.79 88.66 L700.79 90.19 L700.79 87.65 L700.79 89.15 L700.94 89.71 L700.94 90.88 L700.94 88.35 L701.10 90.86 L701.10 91.41 L701.10 89.25 L701.25 91.38 L701.25 89.16 L701.41 90.90 L701.41 88.73 L701.56 90.33 L701.56 91.73 L701.56 89.42 L701.56 90.63 L701.71 90.66 L701.71 91.80 L701.71 89.83 L701.87 92.16 L701.87 89.61 L702.02 92.44 L702.02 89.87 L702.18 93.00 L702.18 90.01 L702.33 91.99 L702.33 92.44 L702.33 90.33 L702.48 92.18 L702.48 93.44 L702.48 91.13 L702.64 92.72 L702.64 90.82 L702.64 93.32 L702.79 91.85 L702.79 93.97 L702.79 91.19 L702.94 91.53 L702.94 90.76 L702.94 93.56 L703.10 90.96 L703.10 92.92 L703.25 90.32 L703.25 91.85 L703.40 90.57 L703.40 90.17 L703.40 92.26 L703.55 90.87 L703.55 89.69 L703.55 91.82 L703.55 90.68 L703.70 91.66 L703.70 90.03 L703.70 92.04 L703.70 91.54 L703.86 92.36 L703.86 89.65 L704.01 91.41 L704.01 89.60 L704.16 90.26 L704.16 91.76 L704.16 89.10 L704.16 91.29 L704.31 90.30 L704.31 91.80 L704.31 89.24 L704.31 90.11 L704.46 91.41 L704.46 89.17 L704.61 92.13 L704.61 89.25 L704.76 88.83 L704.76 91.44 L704.91 90.90 L704.91 89.56 L704.91 91.95 L704.91 90.63 L705.07 89.90 L705.07 91.80 L705.07 88.90 L705.07 89.57 L705.22 91.95 L705.22 89.48 L705.37 92.05 L705.37 89.69 L705.52 91.05 L705.52 91.91 L705.52 90.35 L705.52 91.21 L705.67 92.64 L705.67 90.30 L705.82 91.41 L705.82 89.69 L705.82 92.44 L705.82 90.20 L705.96 92.60 L705.96 90.34 L706.11 91.40 L706.11 93.59 L706.11 90.82 L706.11 92.89 L706.26 93.23 L706.26 90.04 L706.41 91.26 L706.41 93.71 L706.56 93.12 L706.56 93.68 L706.56 90.89 L706.71 92.62 L706.71 93.14 L706.71 90.74 L706.71 92.13 L706.86 93.62 L706.86 91.51 L707.01 93.56 L707.01 91.83 L707.15 92.32 L707.15 93.52 L707.15 91.90 L707.30 91.58 L707.30 94.62 L707.45 93.18 L707.45 91.72 L707.45 94.31 L707.45 92.40 L707.60 92.42 L707.60 91.91 L707.60 93.97 L707.60 93.06 L707.75 92.11 L707.75 94.61 L707.89 92.18 L707.89 94.66 L708.04 93.15 L708.04 94.82 L708.19 92.93 L708.19 95.41 L708.33 93.86 L708.33 92.40 L708.33 95.29 L708.33 93.07 L708.48 95.01 L708.48 93.37 L708.48 95.31 L708.63 95.66 L708.63 92.76 L708.63 96.26 L708.77 92.95 L708.77 96.00 L708.92 93.36 L708.92 96.47 L709.07 95.92 L709.07 94.35 L709.07 96.25 L709.21 93.57 L709.21 96.05 L709.36 96.25 L709.36 93.84 L709.36 96.79 L709.36 96.34 L709.50 96.63 L709.50 94.59 L709.65 95.68 L709.65 95.11 L709.65 97.29 L709.79 95.17 L709.79 97.58 L709.94 96.33 L709.94 97.94 L709.94 95.04 L710.08 97.15 L710.08 94.87 L710.23 97.40 L710.23 95.16 L710.37 97.39 L710.37 95.54 L710.52 98.57 L710.52 95.51 L710.66 97.20 L710.66 96.42 L710.66 98.57 L710.66 97.23 L710.81 96.72 L710.81 98.53 L710.81 96.32 L710.81 96.84 L710.95 99.03 L710.95 96.43 L711.10 97.26 L711.10 98.51 L711.10 95.96 L711.24 96.54 L711.24 98.79 L711.38 99.52 L711.38 96.67 L711.53 99.14 L711.53 96.70 L711.67 100.03 L711.67 96.74 L711.81 98.81 L711.81 97.34 L711.81 99.71 L711.81 98.52 L711.96 97.26 L711.96 99.36 L712.10 97.23 L712.10 99.83 L712.24 98.75 L712.24 99.88 L712.24 98.08 L712.38 100.59 L712.38 98.23 L712.53 99.10 L712.53 98.68 L712.53 100.66 L712.53 99.99 L712.67 98.41 L712.67 101.18 L712.81 99.77 L712.81 101.54 L712.81 98.60 L712.81 100.84 L712.95 100.07 L712.95 100.63 L712.95 98.32 L712.95 99.62 L713.09 100.73 L713.09 98.85 L713.24 101.56 L713.24 98.62 L713.38 101.54 L713.38 98.96 L713.52 101.37 L713.52 98.83 L713.66 100.48 L713.66 101.82 L713.66 99.75 L713.80 101.99 L713.80 99.76 L713.94 102.28 L713.94 99.29 L714.08 102.07 L714.08 100.00 L714.22 101.98 L714.22 99.28 L714.22 102.56 L714.36 101.14 L714.36 100.50 L714.36 102.17 L714.50 101.15 L714.50 100.37 L714.50 102.69 L714.64 100.72 L714.64 102.40 L714.78 101.80 L714.78 103.33 L714.78 100.99 L714.78 102.85 L714.92 101.42 L714.92 102.67 L714.92 100.40 L715.06 102.03 L715.06 103.69 L715.06 100.62 L715.20 103.95 L715.20 100.65 L715.34 103.71 L715.34 101.43 L715.48 102.09 L715.48 103.53 L715.48 101.50 L715.48 103.02 L715.62 103.73 L715.62 101.15 L715.76 103.89 L715.76 101.82 L715.90 104.35 L715.90 101.72 L716.04 103.35 L716.04 104.66 L716.04 102.42 L716.18 104.80 L716.18 102.53 L716.31 105.03 L716.31 102.19 L716.45 102.37 L716.45 104.52 L716.59 103.27 L716.59 105.54 L716.73 103.89 L716.73 102.37 L716.73 105.38 L716.87 104.82 L716.87 103.05 L717.01 104.54 L717.01 105.91 L717.01 103.63 L717.14 103.47 L717.14 105.99 L717.28 103.79 L717.28 105.87 L717.42 104.50 L717.42 103.71 L717.42 105.53 L717.55 104.21 L717.55 106.32 L717.69 104.95 L717.69 104.61 L717.69 106.57 L717.69 105.21 L717.83 104.64 L717.83 106.38 L717.97 105.84 L717.97 104.80 L717.97 106.54 L718.10 104.44 L718.10 106.96 L718.24 106.70 L718.24 105.18 L718.24 107.61 L718.37 106.37 L718.37 105.58 L718.37 107.30 L718.51 107.41 L718.51 105.75 L718.51 107.75 L718.65 107.17 L718.65 107.66 L718.65 105.18 L718.78 105.58 L718.78 107.58 L718.92 107.63 L718.92 106.52 L718.92 108.27 L718.92 107.44 L719.05 105.91 L719.05 107.93 L719.19 108.46 L719.19 105.95 L719.33 108.14 L719.33 108.32 L719.33 107.17 L719.46 108.50 L719.46 106.61 L719.60 108.75 L719.60 109.15 L719.60 107.51 L719.73 109.07 L719.73 106.96 L719.87 109.22 L719.87 107.30 L720.00 109.28 L720.00 106.67" fill="none" stroke="#0000ff" stroke-width="1.55" stroke-linejoin="round" stroke-linecap="square" clip-path="url(#c1)"/>
<path d="M100.0 247.5 H720.0" stroke="#000" stroke-width="0.7" stroke-dasharray="1.39 4.17" stroke-dashoffset="-0.5" fill="none"/>
<path d="M100.0 216.5 H720.0" stroke="#000" stroke-width="0.7" stroke-dasharray="1.39 4.17" stroke-dashoffset="-0.5" fill="none"/>
<path d="M100.0 185.5 H720.0" stroke="#000" stroke-width="0.7" stroke-dasharray="1.39 4.17" stroke-dashoffset="-0.5" fill="none"/>
<path d="M100.0 154.5 H720.0" stroke="#000" stroke-width="0.7" stroke-dasharray="1.39 4.17" stroke-dashoffset="-0.5" fill="none"/>
<path d="M100.0 122.5 H720.0" stroke="#000" stroke-width="0.7" stroke-dasharray="1.39 4.17" stroke-dashoffset="-0.5" fill="none"/>
<path d="M100.0 91.5 H720.0" stroke="#000" stroke-width="0.7" stroke-dasharray="1.39 4.17" stroke-dashoffset="-0.5" fill="none"/>
<path d="M410.5 278.2 V60.0" stroke="#000" stroke-width="0.7" stroke-dasharray="1.39 4.17" fill="none"/>
<path d="M100.0 278.5 h5.56 M720.0 278.5 h-5.56 M100.0 247.5 h5.56 M720.0 247.5 h-5.56 M100.0 216.5 h5.56 M720.0 216.5 h-5.56 M100.0 185.5 h5.56 M720.0 185.5 h-5.56 M100.0 154.5 h5.56 M720.0 154.5 h-5.56 M100.0 122.5 h5.56 M720.0 122.5 h-5.56 M100.0 91.5 h5.56 M720.0 91.5 h-5.56 M100.0 60.5 h5.56 M720.0 60.5 h-5.56 M100.5 278.18 v-5.56 M100.5 60.00 v5.56 M410.5 278.18 v-5.56 M410.5 60.00 v5.56 M720.5 278.18 v-5.56 M720.5 60.00 v5.56 M193.5 278.18 v-2.78 M193.5 60.00 v2.78 M248.5 278.18 v-2.78 M248.5 60.00 v2.78 M287.5 278.18 v-2.78 M287.5 60.00 v2.78 M317.5 278.18 v-2.78 M317.5 60.00 v2.78 M341.5 278.18 v-2.78 M341.5 60.00 v2.78 M362.5 278.18 v-2.78 M362.5 60.00 v2.78 M380.5 278.18 v-2.78 M380.5 60.00 v2.78 M396.5 278.18 v-2.78 M396.5 60.00 v2.78 M503.5 278.18 v-2.78 M503.5 60.00 v2.78 M558.5 278.18 v-2.78 M558.5 60.00 v2.78 M597.5 278.18 v-2.78 M597.5 60.00 v2.78 M627.5 278.18 v-2.78 M627.5 60.00 v2.78 M651.5 278.18 v-2.78 M651.5 60.00 v2.78 M672.5 278.18 v-2.78 M672.5 60.00 v2.78 M690.5 278.18 v-2.78 M690.5 60.00 v2.78 M706.5 278.18 v-2.78 M706.5 60.00 v2.78" stroke="#000" stroke-width="0.7" fill="none"/>
<rect x="100.5" y="60.5" width="620.0" height="218.0" fill="none" stroke="#000" stroke-width="1.5"/>
<text transform="translate(94.4 282.9) scale(0.95 1.05)" text-anchor="end" class="t">−20</text>
<text transform="translate(94.4 251.9) scale(0.95 1.05)" text-anchor="end" class="t">−15</text>
<text transform="translate(94.4 220.9) scale(0.95 1.05)" text-anchor="end" class="t">−10</text>
<text transform="translate(94.4 189.9) scale(0.95 1.05)" text-anchor="end" class="t">−5</text>
<text transform="translate(94.4 158.9) scale(0.95 1.05)" text-anchor="end" class="t">0</text>
<text transform="translate(94.4 126.9) scale(0.95 1.05)" text-anchor="end" class="t">5</text>
<text transform="translate(94.4 95.9) scale(0.95 1.05)" text-anchor="end" class="t">10</text>
<text transform="translate(94.4 64.9) scale(0.95 1.05)" text-anchor="end" class="t">15</text>
<text transform="translate(100.9 300.2) scale(0.96 1.05)" text-anchor="middle" class="t">10<tspan dy="-6.6" dx="1.8" font-size="11.67">1</tspan></text>
<text transform="translate(410.9 300.2) scale(0.96 1.05)" text-anchor="middle" class="t">10<tspan dy="-6.6" dx="1.8" font-size="11.67">2</tspan></text>
<text transform="translate(720.9 300.2) scale(0.96 1.05)" text-anchor="middle" class="t">10<tspan dy="-6.6" dx="1.8" font-size="11.67">3</tspan></text>
<path d="M100.00 436.25 L112.83 434.38 L112.95 427.75 L124.55 428.12 L124.67 435.25 L135.32 437.25 L135.44 438.75 L135.56 434.75 L145.30 431.50 L145.42 428.12 L145.54 434.00 L154.59 435.62 L154.71 436.88 L154.83 433.50 L163.28 432.25 L163.40 434.38 L163.52 432.50 L171.44 431.88 L171.56 437.25 L171.68 435.62 L179.13 433.12 L179.25 431.88 L179.37 436.88 L186.41 437.25 L186.53 431.88 L186.65 436.25 L193.27 433.19 L193.32 432.50 L193.32 439.38 L193.37 437.31 L199.84 432.81 L199.89 431.88 L199.89 441.25 L199.94 438.44 L206.10 429.38 L206.15 427.50 L206.15 446.25 L206.20 440.62 L212.09 430.02 L212.14 428.50 L212.14 443.75 L212.19 439.18 L217.82 430.59 L217.87 429.38 L217.87 441.50 L217.92 437.86 L223.31 430.94 L223.36 430.00 L223.36 439.38 L223.41 436.56 L228.59 434.69 L228.64 434.38 L228.64 437.50 L228.69 436.56 L233.67 432.94 L233.72 431.88 L233.72 442.50 L233.77 439.31 L238.57 430.75 L238.62 429.38 L238.62 443.12 L238.67 439.00 L243.29 433.88 L243.34 433.12 L243.34 440.62 L243.39 438.38 L247.86 433.12 L247.91 432.50 L247.91 438.75 L247.96 436.88 L252.27 432.31 L252.32 431.25 L252.32 441.88 L252.37 438.69 L256.55 432.56 L256.60 431.25 L256.60 444.38 L256.65 440.44 L260.69 431.81 L260.74 430.62 L260.74 442.50 L260.79 438.94 L264.71 432.75 L264.76 431.25 L264.76 446.25 L264.81 441.75 L268.61 430.75 L268.66 428.75 L268.66 448.75 L268.71 442.75 L272.40 430.88 L272.45 429.38 L272.45 444.38 L272.50 439.88 L276.09 434.69 L276.14 433.75 L276.14 443.12 L276.19 440.31 L279.68 430.62 L279.73 429.38 L279.73 441.88 L279.78 438.12 L283.18 433.38 L283.23 431.25 L283.23 452.50 L283.28 446.12 L286.64 443.68 L286.64 431.94 L289.96 434.31 L289.96 441.81 L289.96 429.44 L293.21 438.47 L293.21 448.06 L293.21 428.19 L293.21 433.32 L296.38 451.18 L296.38 427.57 L299.47 445.56 L299.47 431.94 L302.50 445.56 L302.50 430.69 L305.45 441.81 L305.45 433.82 L308.35 436.01 L308.35 443.06 L308.35 432.57 L311.18 436.64 L311.18 444.31 L311.18 425.69 L313.96 447.79 L313.96 458.06 L313.96 416.32 L316.68 434.75 L316.68 449.31 L316.68 422.57 L316.68 439.18 L319.35 420.07 L319.35 456.81 L321.96 461.81 L321.96 422.57 L324.53 427.57 L324.53 446.81 L327.04 426.94 L327.04 448.06 L329.51 438.78 L329.51 425.69 L329.51 449.31 L329.51 435.91 L331.94 436.55 L331.94 456.18 L331.94 426.32 L331.94 448.47 L334.32 435.36 L334.32 444.31 L334.32 431.94 L334.32 441.16 L336.66 438.68 L336.66 431.94 L336.66 450.56 L336.66 444.85 L338.96 434.06 L338.96 445.56 L338.96 427.57 L338.96 437.76 L341.23 440.91 L341.23 430.69 L341.23 445.56 L341.23 436.39 L343.45 442.08 L343.45 418.19 L343.45 449.31 L343.45 424.81 L345.64 427.17 L345.64 420.69 L345.64 449.93 L345.64 438.62 L347.80 434.85 L347.80 428.19 L347.80 449.31 L347.80 441.39 L349.92 432.05 L349.92 426.94 L349.92 449.31 L349.92 443.28 L352.00 438.18 L352.00 441.81 L352.00 431.94 L352.00 434.18 L354.06 436.95 L354.06 427.57 L354.06 439.31 L354.06 430.53 L356.08 437.97 L356.08 411.94 L356.08 451.81 L356.08 429.20 L358.08 439.65 L358.08 449.31 L358.08 426.94 L358.08 436.72 L360.04 440.44 L360.04 448.06 L360.04 425.69 L360.04 434.46 L361.98 429.43 L361.98 452.43 L361.98 395.69 L361.98 412.81 L363.89 442.16 L363.89 410.07 L363.89 454.93 L363.89 425.32 L365.77 435.86 L365.77 444.31 L365.77 422.57 L365.77 429.95 L367.63 431.30 L367.63 446.81 L367.63 420.07 L367.63 437.24 L369.46 439.21 L369.46 444.31 L369.46 426.94 L369.46 433.16 L371.27 437.21 L371.27 449.93 L371.27 419.44 L371.27 427.83 L373.05 433.39 L373.05 443.06 L373.05 418.82 L373.05 427.56 L374.81 432.42 L374.81 426.94 L374.81 436.81 L374.81 430.01 L376.55 428.46 L376.55 436.18 L376.55 415.07 L376.55 419.97 L378.26 432.89 L378.26 438.06 L378.26 417.57 L378.26 423.23 L379.96 431.34 L379.96 416.94 L379.96 441.81 L379.96 426.46 L381.63 428.16 L381.63 393.82 L381.63 455.56 L381.63 417.34 L383.28 418.59 L383.28 402.57 L383.28 451.81 L383.28 434.51 L384.91 411.91 L384.91 394.18 L384.91 434.31 L384.91 419.26 L386.53 395.46 L386.53 430.12 L386.53 381.94 L386.53 420.11 L388.12 406.61 L388.12 383.82 L388.12 442.43 L388.12 421.82 L389.69 412.27 L389.69 402.89 L389.69 440.32 L389.69 431.65 L391.25 419.41 L391.25 439.31 L391.25 413.19 L391.25 429.36 L392.79 420.60 L392.79 399.44 L392.79 449.31 L392.79 438.57 L394.31 407.26 L394.31 398.82 L394.31 439.31 L394.31 425.30 L395.82 422.67 L395.82 412.58 L395.82 439.31 L395.82 431.20 L397.30 404.90 L397.30 445.56 L397.30 389.44 L397.30 421.84 L398.77 425.15 L398.77 371.32 L398.77 454.93 L398.77 390.69 L400.23 391.95 L400.23 376.80 L400.23 445.56 L400.23 418.44 L401.67 406.37 L401.67 383.19 L401.67 440.38 L401.67 416.61 L403.09 405.57 L403.09 382.57 L403.09 438.68 L403.09 416.81 L404.50 395.65 L404.50 374.44 L404.50 423.06 L404.50 402.37 L405.90 414.90 L405.90 420.92 L405.90 413.19 L407.28 413.54 L407.28 407.18 L407.28 426.81 L407.28 419.34 L408.65 408.78 L408.65 391.94 L408.65 440.56 L408.65 422.10 L410.00 387.43 L410.00 424.31 L410.00 376.94 L410.00 410.60 L411.34 370.42 L411.34 424.31 L411.34 354.44 L411.34 396.87 L412.67 409.99 L412.67 394.44 L412.67 447.43 L412.67 433.12 L413.98 418.16 L413.98 432.47 L413.98 406.57 L413.98 426.60 L415.28 399.36 L415.28 385.07 L415.28 425.56 L415.28 415.58 L416.57 410.94 L416.57 420.86 L416.57 408.14 L416.57 416.91 L417.84 417.70 L417.84 393.19 L417.84 433.06 L417.84 407.31 L419.11 409.50 L419.11 419.31 L419.11 383.19 L419.11 391.28 L420.36 415.47 L420.36 395.69 L420.36 423.45 L420.36 406.01 L421.60 412.59 L421.60 384.14 L421.60 428.06 L421.60 397.59 L422.83 406.04 L422.83 420.55 L422.83 370.07 L422.83 385.24 L424.05 414.89 L424.05 444.31 L424.05 371.32 L424.05 403.24 L425.26 424.07 L425.26 396.15 L425.26 438.06 L425.26 413.32 L426.45 416.95 L426.45 426.22 L426.45 383.19 L426.45 400.76 L427.64 428.87 L427.64 353.82 L427.64 454.31 L427.64 385.86 L428.82 421.51 L428.82 436.81 L428.82 375.69 L428.82 400.79 L429.98 411.91 L429.98 436.81 L429.98 375.69 L429.98 390.30 L431.14 409.44 L431.14 426.95 L431.14 385.69 L431.14 395.54 L432.28 406.91 L432.28 374.86 L432.28 425.56 L432.28 395.76 L433.42 395.01 L433.42 361.69 L433.42 413.06 L433.42 372.12 L434.55 393.87 L434.55 386.94 L434.55 410.51 L434.55 404.98 L435.66 385.53 L435.66 381.32 L435.66 401.74 L435.66 393.84 L436.77 398.73 L436.77 392.33 L436.77 416.81 L436.77 408.87 L437.87 393.04 L437.87 386.94 L437.87 401.41 L437.87 398.48 L438.96 405.13 L438.96 409.31 L438.96 393.98 L438.96 400.15 L440.04 397.90 L440.04 383.19 L440.04 408.18 L440.04 391.56 L441.11 395.56 L441.11 418.06 L441.11 383.80 L441.11 408.71 L442.18 390.22 L442.18 409.87 L442.18 376.94 L442.18 402.64 L443.24 385.25 L443.24 402.44 L443.24 378.46 L443.24 392.26 L444.28 391.20 L444.28 422.43 L444.28 373.19 L444.28 408.22 L445.32 393.24 L445.32 385.69 L445.32 405.04 L445.32 398.57 L446.35 390.93 L446.35 409.31 L446.35 384.41 L446.35 403.14 L447.38 387.87 L447.38 381.32 L447.38 409.31 L447.38 397.60 L448.39 394.15 L448.39 408.69 L448.39 387.57 L448.39 404.45 L449.40 395.81 L449.40 391.34 L449.40 411.74 L449.40 403.45 L450.40 403.21 L450.40 413.68 L450.40 381.94 L450.40 391.56 L451.40 396.18 L451.40 386.88 L451.40 400.23 L451.40 390.35 L452.38 398.58 L452.38 405.56 L452.38 385.69 L452.38 392.87 L453.36 395.12 L453.36 385.07 L453.36 401.80 L453.36 389.82 L454.33 401.50 L454.33 408.14 L454.33 380.55 L454.33 390.88 L455.30 399.86 L455.30 378.19 L455.30 409.31 L455.30 388.93 L456.26 396.94 L456.26 380.29 L456.26 409.69 L456.26 390.16 L457.21 400.83 L457.21 414.31 L457.21 375.69 L457.21 384.40 L458.15 397.77 L458.15 406.04 L458.15 391.84 L458.15 401.78 L459.09 399.41 L459.09 388.19 L459.09 402.77 L459.09 393.53 L460.02 403.70 L460.02 406.81 L460.02 393.10 L460.02 396.69 L460.95 401.32 L460.95 409.64 L460.95 381.55 L460.95 389.49 L461.87 404.27 L461.87 418.68 L461.87 371.94 L461.87 391.97 L462.78 408.78 L462.78 415.60 L462.78 393.75 L462.78 402.09 L463.69 397.67 L463.69 404.65 L463.69 380.69 L463.69 388.68 L464.59 398.34 L464.59 393.13 L464.59 405.56 L464.59 400.96 L465.48 401.57 L465.48 391.70 L465.48 405.56 L465.48 397.24 L466.37 398.57 L466.37 402.71 L466.37 387.57 L466.37 392.60 L467.25 400.30 L467.25 403.68 L467.25 387.70 L467.25 394.01 L468.13 396.34 L468.13 402.50 L468.13 385.07 L468.13 390.06 L469.00 397.54 L469.00 387.65 L469.00 400.26 L469.00 390.23 L469.87 400.12 L469.87 403.06 L469.87 389.44 L469.87 392.72 L470.73 396.67 L470.73 389.90 L470.73 401.86 L470.73 393.27 L471.58 399.85 L471.58 405.60 L471.58 386.74 L471.58 391.08 L472.43 403.84 L472.43 408.78 L472.43 388.61 L472.43 393.74 L473.28 400.19 L473.28 411.18 L473.28 383.19 L473.28 388.80 L474.12 403.65 L474.12 407.25 L474.12 393.23 L474.12 398.25 L474.95 402.15 L474.95 395.37 L474.95 404.31 L474.95 399.21 L475.78 399.07 L475.78 390.07 L475.78 401.88 L475.78 394.11 L476.60 395.17 L476.60 388.55 L476.60 404.22 L476.60 400.53 L477.42 398.82 L477.42 409.93 L477.42 391.58 L477.42 402.23 L478.23 397.38 L478.23 383.19 L478.23 406.05 L478.23 392.18 L479.04 397.92 L479.04 392.69 L479.04 405.13 L479.04 400.62 L479.85 399.49 L479.85 403.06 L479.85 389.44 L479.85 392.48 L480.64 401.18 L480.64 387.71 L480.64 405.24 L480.64 393.01 L481.44 402.24 L481.44 408.00 L481.44 385.19 L481.44 393.83 L482.23 404.04 L482.23 381.94 L482.23 412.43 L482.23 389.01 L483.01 397.89 L483.01 385.68 L483.01 405.91 L483.01 391.37 L483.79 400.70 L483.79 404.31 L483.79 393.37 L483.79 396.60 L484.57 396.18 L484.57 389.44 L484.57 399.19 L484.57 393.49 L485.34 395.71 L485.34 386.94 L485.34 409.31 L485.34 402.05 L486.11 390.52 L486.11 397.20 L486.11 385.89 L486.11 393.19 L486.87 397.79 L486.87 405.31 L486.87 379.44 L486.87 389.41 L487.63 399.09 L487.63 388.17 L487.63 405.72 L487.63 393.64 L488.38 402.09 L488.38 385.69 L488.38 406.81 L488.38 394.81 L489.13 398.04 L489.13 406.81 L489.13 385.69 L489.13 394.78 L489.88 399.81 L489.88 405.14 L489.88 393.14 L489.88 398.08 L490.62 402.64 L490.62 408.68 L490.62 383.82 L490.62 390.12 L491.36 395.93 L491.36 390.03 L491.36 405.46 L491.36 401.60 L492.09 400.63 L492.09 406.41 L492.09 397.59 L492.09 403.36 L492.82 393.81 L492.82 391.94 L492.82 400.16 L492.82 397.21 L493.55 398.17 L493.55 392.23 L493.55 405.56 L493.55 401.05 L494.27 394.82 L494.27 404.25 L494.27 387.57 L494.27 397.46 L494.99 394.99 L494.99 390.64 L494.99 404.07 L494.99 399.09 L495.70 403.16 L495.70 395.56 L496.41 398.60 L496.41 392.84 L496.41 407.43 L496.41 401.73 L497.12 389.57 L497.12 403.59 L497.12 385.69 L497.12 395.73 L497.82 395.99 L497.82 392.45 L497.82 405.30 L497.82 402.15 L498.52 395.94 L498.52 392.55 L498.52 403.08 L498.52 398.46 L499.22 397.80 L499.22 395.72 L499.22 403.79 L499.22 401.06 L499.91 403.93 L499.91 407.43 L499.91 393.19 L499.91 397.66 L500.60 400.48 L500.60 403.08 L500.60 394.03 L500.60 396.73 L501.28 398.73 L501.28 392.55 L501.28 401.59 L501.28 395.80 L501.97 401.71 L501.97 408.86 L501.97 392.84 L501.97 397.83 L502.64 401.85 L502.64 396.80 L502.64 405.10 L502.64 399.92 L503.32 403.53 L503.32 411.18 L503.32 390.07 L503.32 398.31 L503.99 400.74 L503.99 397.68 L503.99 401.33 L503.99 398.25 L504.66 402.25 L504.66 395.07 L504.66 406.17 L504.66 399.43 L505.32 400.65 L505.32 395.07 L505.32 403.06 L505.99 403.06 L505.99 395.39 L506.64 397.14 L506.64 403.67 L506.64 392.94 L506.64 400.63 L507.30 396.47 L507.30 400.98 L507.30 394.60 L507.95 404.02 L507.95 396.54 L508.60 399.96 L508.60 396.88 L508.60 404.93 L508.60 401.65 L509.25 397.41 L509.25 405.14 L509.89 396.97 L509.89 394.44 L509.89 401.70 L510.53 404.16 L510.53 397.19 L510.53 406.03 L510.53 398.99 L511.16 401.18 L511.16 396.57 L511.16 407.43 L511.16 403.71 L511.80 399.90 L511.80 406.06 L512.43 402.24 L512.43 396.94 L512.43 406.08 L512.43 399.18 L513.06 401.39 L513.06 398.17 L513.06 404.38 L513.68 396.49 L513.68 401.30 L514.30 401.58 L514.30 404.31 L514.30 395.17 L514.30 397.22 L514.92 401.43 L514.92 394.19 L515.54 403.34 L515.54 406.13 L515.54 398.87 L516.15 396.52 L516.15 402.72 L516.76 404.11 L516.76 395.32 L516.76 410.13 L516.76 401.23 L517.37 406.43 L517.37 411.81 L517.37 398.95 L517.37 402.22 L517.97 404.07 L517.97 408.89 L517.97 395.69 L517.97 399.65 L518.58 399.27 L518.58 397.21 L518.58 404.31 L518.58 400.99 L519.18 402.84 L519.18 396.37 L519.18 405.15 L519.18 399.44 L519.77 409.31 L519.77 401.91 L520.37 403.33 L520.37 399.86 L520.37 407.88 L520.37 404.36 L520.96 399.28 L520.96 405.43 L520.96 396.94 L520.96 403.33 L521.55 402.22 L521.55 409.67 L521.55 396.94 L521.55 404.20 L522.14 403.38 L522.14 404.39 L522.14 398.81 L522.72 404.86 L522.72 401.01 L522.72 409.93 L522.72 405.95 L523.30 406.65 L523.30 400.41 L523.88 401.35 L523.88 397.87 L523.88 411.64 L523.88 407.99 L524.46 405.86 L524.46 403.68 L524.46 413.06 L524.46 410.20 L525.03 403.76 L525.03 406.70 L525.03 398.19 L525.03 400.02 L525.60 403.84 L525.60 398.70 L525.60 406.46 L526.17 404.36 L526.17 400.79 L526.17 409.71 L526.17 406.84 L526.74 405.51 L526.74 409.73 L526.74 403.55 L527.30 403.09 L527.30 410.56 L527.30 399.44 L527.30 408.03 L527.87 404.40 L527.87 409.72 L528.43 406.94 L528.43 409.60 L528.43 401.50 L528.43 404.90 L528.98 406.07 L528.98 401.54 L528.98 408.40 L529.54 404.16 L529.54 407.88 L529.54 401.77 L529.54 406.21 L530.09 404.18 L530.09 408.75 L530.09 402.85 L530.64 405.40 L530.64 408.16 L530.64 402.12 L531.19 409.15 L531.19 401.99 L531.74 403.88 L531.74 401.31 L531.74 410.15 L531.74 407.41 L532.28 403.95 L532.28 409.74 L532.28 402.38 L532.82 409.95 L532.82 402.16 L533.36 407.41 L533.36 404.92 L533.90 403.75 L533.90 400.69 L533.90 412.43 L533.90 409.60 L534.43 406.37 L534.43 409.03 L534.43 404.44 L534.97 407.64 L534.97 405.98 L534.97 408.91 L535.50 406.04 L535.50 412.48 L535.50 404.26 L535.50 410.28 L536.03 409.03 L536.03 410.54 L536.03 403.82 L536.55 407.31 L536.55 412.49 L536.55 403.37 L536.55 408.96 L537.08 406.43 L537.08 403.70 L537.08 413.42 L537.08 410.44 L537.60 409.07 L537.60 413.61 L537.60 405.55 L537.60 410.65 L538.12 409.94 L538.12 412.73 L538.12 404.71 L538.12 407.56 L538.64 407.21 L538.64 405.00 L538.64 414.09 L538.64 411.27 L539.16 412.28 L539.16 405.87 L539.67 413.97 L539.67 406.45 L540.19 407.99 L540.19 414.10 L540.19 405.39 L540.19 410.90 L540.70 413.46 L540.70 406.03 L541.21 414.01 L541.21 407.28 L541.71 409.21 L541.71 406.14 L541.71 414.32 L541.71 411.38 L542.22 406.85 L542.22 414.25 L542.72 406.00 L542.72 413.33 L543.22 407.80 L543.22 413.74 L543.72 411.08 L543.72 407.06 L543.72 413.36 L544.22 409.48 L544.22 414.88 L544.22 406.80 L544.22 411.76 L544.72 414.22 L544.72 407.89 L545.21 411.67 L545.21 413.26 L545.21 407.05 L545.70 409.10 L545.70 413.62 L545.70 407.82 L545.70 409.50 L546.19 414.39 L546.19 409.22 L546.68 415.88 L546.68 409.43 L547.17 409.51 L547.17 415.78 L547.65 414.82 L547.65 408.19 L548.14 415.77 L548.14 408.97 L548.62 411.71 L548.62 417.18 L548.62 409.89 L549.10 410.49 L549.10 416.91 L549.10 408.60 L549.10 414.60 L549.58 410.19 L549.58 416.97 L550.05 411.85 L550.05 417.28 L550.05 409.08 L550.05 414.38 L550.53 412.45 L550.53 409.84 L550.53 416.70 L550.53 415.35 L551.00 411.16 L551.00 416.91 L551.47 415.31 L551.47 418.42 L551.47 410.00 L551.47 412.54 L551.94 409.93 L551.94 417.28 L552.41 410.26 L552.41 417.29 L552.88 411.87 L552.88 418.02 L553.34 415.34 L553.34 411.92 L553.34 417.30 L553.34 414.25 L553.81 414.19 L553.81 412.18 L553.81 418.06 L553.81 416.71 L554.27 417.76 L554.27 419.09 L554.27 411.53 L554.27 412.87 L554.73 418.30 L554.73 412.16 L555.19 416.92 L555.19 413.07 L555.19 419.27 L555.19 416.78 L555.64 413.61 L555.64 417.85 L555.64 412.81 L556.10 413.73 L556.10 418.77 L556.10 411.97 L556.10 415.50 L556.55 415.30 L556.55 419.19 L556.55 413.26 L557.01 419.54 L557.01 413.30 L557.46 418.99 L557.46 413.85 L557.91 418.24 L557.91 420.43 L557.91 414.16 L557.91 417.25 L558.36 418.02 L558.36 419.98 L558.36 412.81 L558.36 415.75 L558.80 413.91 L558.80 420.70 L559.25 418.66 L559.25 420.11 L559.25 413.35 L559.69 416.48 L559.69 420.54 L559.69 413.86 L559.69 419.42 L560.13 414.56 L560.13 419.73 L560.57 414.15 L560.57 419.60 L561.01 417.51 L561.01 421.17 L561.01 413.55 L561.45 418.75 L561.45 420.77 L561.45 414.75 L561.89 415.90 L561.89 421.25 L561.89 414.74 L562.32 420.69 L562.32 414.35 L562.76 422.06 L562.76 414.49 L563.19 422.12 L563.19 414.99 L563.62 417.93 L563.62 422.38 L563.62 416.25 L564.05 420.81 L564.05 423.13 L564.05 416.26 L564.05 422.02 L564.48 422.72 L564.48 414.97 L564.90 418.77 L564.90 421.78 L564.90 415.19 L565.33 422.03 L565.33 417.42 L565.75 422.14 L565.75 416.84 L566.18 421.68 L566.18 417.78 L566.18 422.70 L566.60 423.57 L566.60 417.57 L567.02 422.24 L567.02 418.70 L567.44 421.74 L567.44 422.64 L567.44 419.18 L567.85 419.90 L567.85 423.43 L567.85 419.19 L568.27 419.53 L568.27 422.58 L568.27 418.35 L568.68 418.98 L568.68 424.29 L569.10 420.73 L569.10 419.78 L569.10 423.27 L569.51 421.78 L569.51 424.36 L569.51 419.66 L569.92 420.57 L569.92 424.92 L570.33 420.01 L570.33 423.99 L570.74 420.26 L570.74 424.68 L571.15 421.89 L571.15 420.92 L571.15 425.27 L571.55 420.83 L571.55 425.97 L571.96 421.60 L571.96 425.44 L572.36 423.21 L572.36 422.06 L572.36 425.08 L572.76 425.72 L572.76 421.93 L572.76 426.39 L572.76 423.82 L573.17 422.87 L573.17 421.58 L573.17 425.98 L573.17 423.30 L573.57 424.87 L573.57 421.11 L573.57 426.71 L573.57 424.42 L573.96 427.38 L573.96 422.14 L574.36 425.45 L574.36 426.60 L574.36 422.02 L574.36 424.03 L574.76 426.81 L574.76 421.95 L575.15 427.49 L575.15 422.08 L575.55 422.95 L575.55 426.91 L575.94 426.71 L575.94 422.94 L575.94 427.69 L576.33 427.09 L576.33 428.34 L576.33 423.67 L576.72 428.34 L576.72 423.37 L577.11 428.83 L577.11 423.72 L577.50 427.58 L577.50 428.95 L577.50 424.11 L577.89 423.97 L577.89 429.28 L578.28 425.88 L578.28 428.26 L578.28 424.43 L578.28 425.01 L578.66 426.99 L578.66 428.58 L578.66 424.98 L579.05 425.98 L579.05 428.52 L579.43 426.92 L579.43 428.69 L579.43 425.46 L579.43 426.23 L579.81 429.27 L579.81 425.89 L580.19 427.53 L580.19 429.46 L580.19 426.41 L580.57 430.08 L580.57 426.37 L580.95 430.86 L580.95 425.94 L581.33 430.06 L581.33 426.97 L581.70 431.30 L581.70 426.51 L582.08 426.71 L582.08 431.07 L582.45 428.02 L582.45 431.25 L582.83 427.08 L582.83 430.95 L583.20 432.37 L583.20 428.38 L583.57 428.37 L583.57 432.45 L583.94 429.38 L583.94 428.79 L583.94 432.42 L584.31 429.26 L584.31 433.05 L584.68 432.13 L584.68 430.00 L585.05 432.65 L585.05 429.66 L585.41 433.56 L585.41 429.63 L585.78 431.62 L585.78 433.73 L585.78 430.76 L585.78 432.99 L586.14 432.02 L586.14 433.83 L586.14 431.12 L586.51 430.64 L586.51 434.20 L586.87 432.65 L586.87 430.96 L586.87 434.23 L587.23 434.72 L587.23 431.05 L587.59 432.02 L587.59 434.61 L587.59 431.32 L587.95 431.66 L587.95 436.15 L588.31 434.25 L588.31 432.11 L588.31 436.22 L588.31 433.70 L588.67 435.09 L588.67 431.64 L588.67 436.31 L589.02 435.45 L589.02 431.95 L589.02 436.21 L589.38 431.52 L589.38 436.79 L589.73 435.51 L589.73 432.32 L589.73 437.27 L589.73 435.57 L590.09 435.23 L590.09 432.81 L590.09 436.73 L590.09 434.76 L590.44 437.03 L590.44 431.94 L590.79 430.89 L590.79 436.34 L591.14 432.25 L591.14 431.11 L591.14 435.79 L591.49 431.46 L591.49 435.51 L591.84 434.25 L591.84 430.69 L592.19 430.24 L592.19 430.83 L592.19 429.51 L592.54 429.33 L592.54 428.63 L592.88 428.30 L592.88 426.88 L593.23 425.03 L593.23 425.70 L593.57 422.71 L593.57 421.75 L593.92 419.58 L593.92 419.93 L593.92 419.43 L593.92 419.81 L594.26 417.89 L594.26 418.27 L594.60 415.88 L594.60 418.33 L594.60 415.00 L594.95 418.41 L594.95 414.35 L595.29 415.81 L595.29 417.07 L595.29 414.09 L595.29 416.33 L595.63 417.64 L595.63 413.24 L595.96 414.71 L595.96 416.83 L595.96 412.77 L596.30 416.19 L596.30 417.08 L596.30 412.47 L596.30 416.14 L596.64 413.59 L596.64 416.98 L596.64 411.92 L596.64 415.31 L596.97 417.08 L596.97 412.24 L597.31 414.24 L597.31 417.51 L597.31 412.96 L597.31 414.53 L597.64 416.06 L597.64 412.44 L597.64 417.79 L597.64 414.83 L597.98 413.71 L597.98 417.77 L598.31 415.00 L598.31 418.06 L598.64 418.01 L598.64 416.25 L598.64 420.05 L598.64 417.69 L598.97 418.10 L598.97 420.77 L598.97 417.48 L599.30 419.21 L599.30 420.19 L599.30 418.90 L599.63 420.95 L599.63 418.98 L599.96 420.09 L599.96 422.29 L599.96 419.68 L599.96 420.09 L600.29 420.55 L600.29 423.58 L600.29 419.66 L600.29 422.42 L600.62 422.35 L600.62 420.58 L600.62 423.66 L600.94 421.01 L600.94 424.77 L601.27 422.36 L601.27 421.12 L601.27 424.22 L601.59 422.96 L601.59 421.60 L601.59 424.95 L601.92 425.26 L601.92 423.11 L602.24 424.40 L602.24 426.50 L602.24 423.16 L602.24 425.06 L602.56 426.08 L602.56 423.24 L602.89 424.51 L602.89 426.31 L602.89 423.32 L602.89 424.30 L603.21 426.43 L603.21 424.60 L603.53 427.09 L603.53 424.93 L603.85 427.28 L603.85 424.71 L604.17 426.94 L604.17 428.54 L604.17 424.97 L604.48 426.92 L604.48 428.32 L604.48 426.18 L604.48 427.20 L604.80 429.20 L604.80 426.05 L605.12 426.85 L605.12 428.40 L605.12 426.43 L605.43 427.34 L605.43 429.05 L605.43 426.97 L605.43 427.94 L605.75 427.37 L605.75 430.16 L606.06 427.89 L606.06 429.50 L606.38 428.50 L606.38 427.99 L606.38 430.03 L606.69 430.68 L606.69 427.84 L606.69 431.31 L606.69 429.86 L607.00 431.09 L607.00 428.35 L607.31 431.38 L607.31 428.60 L607.62 430.89 L607.62 431.91 L607.62 429.89 L607.93 431.77 L607.93 429.37 L608.24 431.00 L608.24 432.41 L608.24 430.26 L608.55 433.38 L608.55 430.05 L608.86 433.56 L608.86 431.25 L609.16 431.43 L609.16 433.25 L609.47 433.86 L609.47 431.50 L609.78 434.11 L609.78 432.03 L610.08 432.52 L610.08 435.07 L610.08 431.97 L610.08 434.60 L610.39 433.37 L610.39 435.21 L610.39 432.39 L610.69 434.20 L610.69 434.77 L610.69 432.64 L610.99 434.15 L610.99 435.56 L610.99 433.21 L610.99 433.69 L611.29 435.52 L611.29 433.33 L611.60 434.31 L611.60 435.70 L611.60 433.63 L611.90 435.48 L611.90 433.55 L612.20 434.95 L612.20 433.56 L612.20 436.34 L612.50 434.55 L612.50 434.06 L612.50 436.65 L612.50 435.98 L612.79 434.90 L612.79 433.98 L612.79 436.17 L613.09 435.35 L613.09 434.68 L613.09 436.45 L613.39 436.82 L613.39 435.02 L613.69 436.01 L613.69 435.07 L613.69 436.65 L613.98 437.25 L613.98 435.55 L613.98 437.61 L614.28 436.87 L614.28 435.97 L614.28 437.21 L614.57 436.65 L614.57 435.91 L614.57 437.87 L614.87 437.26 L614.87 435.67 L615.16 437.60 L615.16 438.00 L615.16 436.41 L615.45 438.05 L615.45 436.05 L615.75 438.57 L615.75 435.87 L616.04 438.81 L616.04 436.78 L616.33 438.74 L616.33 436.21 L616.62 439.11 L616.62 436.60 L616.91 437.99 L616.91 436.53 L616.91 438.86 L616.91 437.48 L617.20 438.05 L617.20 436.58 L617.20 439.39 L617.49 437.98 L617.49 436.81 L617.49 439.30 L617.78 439.82 L617.78 437.17 L618.06 439.73 L618.06 436.76 L618.35 438.80 L618.35 440.36 L618.35 436.86 L618.35 438.00 L618.64 440.12 L618.64 437.50 L618.92 438.68 L618.92 439.64 L618.92 437.26 L619.21 440.33 L619.21 437.89 L619.49 439.55 L619.49 440.06 L619.49 437.21 L619.49 439.56 L619.78 438.63 L619.78 438.21 L619.78 439.97 L619.78 439.68 L620.06 438.00 L620.06 440.28 L620.34 437.78 L620.34 440.87 L620.62 439.01 L620.62 438.24 L620.62 440.82 L620.90 438.12 L620.90 441.17 L621.18 438.11 L621.18 441.08 L621.46 438.75 L621.46 438.14 L621.46 440.79 L621.46 439.41 L621.74 439.86 L621.74 438.61 L621.74 441.09 L621.74 439.05 L622.02 439.65 L622.02 438.94 L622.02 441.45 L622.02 440.96 L622.30 439.58 L622.30 438.87 L622.30 441.32 L622.58 439.23 L622.58 441.50 L622.58 438.78 L622.86 440.32 L622.86 441.19 L622.86 439.40 L622.86 439.68 L623.13 439.40 L623.13 441.47 L623.41 439.45 L623.41 442.43 L623.69 441.61 L623.69 439.89 L623.69 442.00 L623.96 439.72 L623.96 441.84 L624.24 440.98 L624.24 440.40 L624.24 441.90 L624.51 441.21 L624.51 440.46 L624.51 442.21 L624.78 442.27 L624.78 440.16 L625.06 441.33 L625.06 443.24 L625.06 440.49 L625.33 443.04 L625.33 440.31 L625.60 442.01 L625.60 443.07 L625.60 440.17 L625.87 442.80 L625.87 440.59 L626.14 440.88 L626.14 442.72 L626.14 440.17 L626.14 441.89 L626.41 441.14 L626.41 440.10 L626.41 442.79 L626.68 440.07 L626.68 443.47 L626.95 440.11 L626.95 443.06 L627.22 440.66 L627.22 443.60 L627.49 439.78 L627.49 443.81 L627.75 440.20 L627.75 443.84 L628.02 440.52 L628.02 443.97 L628.29 440.39 L628.29 443.27 L628.55 440.47 L628.55 443.38 L628.82 441.00 L628.82 443.30 L629.08 441.38 L629.08 443.97 L629.35 441.83 L629.35 444.30 L629.61 442.84 L629.61 442.15 L629.61 444.53 L629.87 443.89 L629.87 441.53 L630.14 443.22 L630.14 444.41 L630.14 442.06 L630.14 444.00 L630.40 443.94 L630.40 441.97 L630.66 443.73 L630.66 442.33 L630.66 444.74 L630.92 443.87 L630.92 444.26 L630.92 442.73 L631.18 444.50 L631.18 442.50 L631.44 443.77 L631.44 442.65 L631.44 444.55 L631.70 442.76 L631.70 444.91 L631.96 443.40 L631.96 442.78 L631.96 444.89 L631.96 443.44 L632.22 442.96 L632.22 444.71 L632.48 444.32 L632.48 445.02 L632.48 443.57 L632.74 443.43 L632.74 444.85 L632.74 443.07 L632.74 444.36 L632.99 444.67 L632.99 445.12 L632.99 443.17 L632.99 443.56 L633.25 444.12 L633.25 445.12 L633.25 443.20 L633.25 444.70 L633.51 445.06 L633.51 443.97 L633.76 444.25 L633.76 445.56 L633.76 443.60 L633.76 445.06 L634.02 445.48 L634.02 443.87 L634.27 445.31 L634.27 443.72 L634.53 446.26 L634.53 444.16 L634.78 445.71 L634.78 446.03 L634.78 444.29 L635.03 446.45 L635.03 443.56 L635.29 444.36 L635.29 445.91 L635.54 443.57 L635.54 445.84 L635.79 443.64 L635.79 446.35 L636.04 445.24 L636.04 446.69 L636.04 443.99 L636.04 444.65 L636.29 444.56 L636.29 446.04 L636.29 443.69 L636.29 444.94 L636.54 446.42 L636.54 444.18 L636.79 446.53 L636.79 444.02 L637.04 445.78 L637.04 446.19 L637.04 444.58 L637.29 446.18 L637.29 444.41 L637.54 445.49 L637.54 446.58 L637.54 444.27 L637.54 445.57 L637.79 444.61 L637.79 443.98 L637.79 446.74 L637.79 446.03 L638.04 446.00 L638.04 443.86 L638.04 446.70 L638.04 446.23 L638.28 444.05 L638.28 447.02 L638.53 446.47 L638.53 444.27 L638.78 446.35 L638.78 447.07 L638.78 443.99 L638.78 444.54 L639.02 446.58 L639.02 444.75 L639.27 447.04 L639.27 444.91 L639.51 447.15 L639.51 444.67 L639.76 446.49 L639.76 444.31 L640.00 445.92 L640.00 446.62 L640.00 445.01 L640.24 447.14 L640.24 444.73 L640.49 445.94 L640.49 446.76 L640.49 445.10 L640.73 446.48 L640.73 447.00 L640.73 444.77 L640.97 447.41 L640.97 445.04 L641.22 445.51 L641.22 446.63 L641.22 444.73 L641.22 445.94 L641.46 445.63 L641.46 447.01 L641.46 444.66 L641.46 446.46 L641.70 447.51 L641.70 444.87 L641.94 446.85 L641.94 445.30 L642.18 447.53 L642.18 444.66 L642.42 447.38 L642.42 445.26 L642.66 446.02 L642.66 447.10 L642.66 445.43 L642.90 446.93 L642.90 444.78 L643.14 446.13 L643.14 445.04 L643.14 446.97 L643.14 445.44 L643.37 445.36 L643.37 447.19 L643.61 445.93 L643.61 447.96 L643.61 445.17 L643.85 445.46 L643.85 444.91 L643.85 447.14 L643.85 445.84 L644.08 444.72 L644.08 447.37 L644.32 444.71 L644.32 447.49 L644.56 444.83 L644.56 447.42 L644.79 445.39 L644.79 448.09 L645.03 445.63 L645.03 445.24 L645.03 447.75 L645.03 447.09 L645.26 445.87 L645.26 447.94 L645.50 448.06 L645.50 446.58 L645.73 448.57 L645.73 446.49 L645.96 448.90 L645.96 447.24 L646.20 448.30 L646.20 446.85 L646.43 448.49 L646.43 449.08 L646.43 447.54 L646.66 449.57 L646.66 448.00 L646.89 449.26 L646.89 447.66 L647.13 449.55 L647.13 448.57 L647.36 449.21 L647.36 448.66 L647.36 449.88 L647.36 449.42 L647.59 448.80 L647.59 448.39 L647.59 450.14 L647.59 449.74 L647.82 449.41 L647.82 450.64 L647.82 448.86 L648.05 450.55 L648.05 449.64 L648.28 449.39 L648.28 451.28 L648.51 451.04 L648.51 449.72 L648.74 451.31 L648.74 449.55 L648.96 451.48 L648.96 449.76 L649.19 451.31 L649.19 450.25 L649.42 450.95 L649.42 452.09 L649.42 450.64 L649.42 451.28 L649.65 452.20 L649.65 450.75 L649.87 452.71 L649.87 451.26 L650.10 452.14 L650.10 451.16 L650.10 452.44 L650.10 451.43 L650.33 452.62 L650.33 451.92 L650.33 452.78 L650.33 452.32 L650.55 451.33 L650.55 452.84 L650.78 452.31 L650.78 451.99 L650.78 453.16 L650.78 452.63 L651.00 451.98 L651.00 453.15 L651.23 452.92 L651.23 453.91 L651.23 452.39 L651.23 452.80 L651.45 453.24 L651.45 453.45 L651.45 452.52 L651.67 454.14 L651.67 452.82 L651.90 453.74 L651.90 454.23 L651.90 453.20 L651.90 454.06 L652.12 453.90 L652.12 453.16 L652.34 454.28 L652.34 454.45 L652.34 453.61 L652.57 453.79 L652.57 454.89 L652.57 453.53 L652.57 453.91 L652.79 455.06 L652.79 453.51 L653.01 453.70 L653.01 454.82 L653.01 453.49 L653.23 453.82 L653.23 455.16 L653.45 454.35 L653.45 455.40 L653.67 455.14 L653.67 454.05 L653.89 455.20 L653.89 454.12 L654.11 454.49 L654.11 455.74 L654.33 455.48 L654.33 454.36 L654.55 456.52 L654.55 454.87 L654.77 455.90 L654.77 454.87 L654.99 456.76 L654.99 454.67 L655.21 456.32 L655.21 456.98 L655.21 454.95 L655.21 455.92 L655.42 456.15 L655.42 457.01 L655.42 455.80 L655.64 456.01 L655.64 456.70 L655.64 455.60 L655.64 456.28 L655.86 456.59 L655.86 455.39 L655.86 457.18 L655.86 456.20 L656.08 456.62 L656.08 456.17 L656.08 456.96 L656.08 456.83 L656.29 456.45 L656.29 456.08 L656.29 457.96 L656.29 457.58 L656.51 456.60 L656.51 457.40 L656.72 456.28 L656.72 457.81 L656.94 456.66 L656.94 457.90 L657.15 457.05 L657.15 458.52 L657.37 458.94 L657.37 457.50 L657.58 458.69 L657.58 457.98 L657.80 459.16 L657.80 458.12 L658.01 459.72 L658.01 457.76 L658.22 458.49 L658.22 459.98 L658.44 458.41 L658.44 459.72 L658.44 458.13 L658.44 459.44 L658.65 459.05 L658.65 459.81 L658.65 458.19 L658.86 460.00 L658.86 459.21 L659.07 460.11 L659.07 459.40 L659.28 461.00 L659.28 459.48 L659.49 460.59 L659.49 459.53 L659.71 461.03 L659.71 459.65 L659.92 461.54 L659.92 459.94 L660.13 459.97 L660.13 461.54 L660.13 459.55 L660.34 462.08 L660.34 460.12 L660.55 461.41 L660.55 462.05 L660.55 460.32 L660.75 461.49 L660.75 462.40 L660.75 460.63 L660.75 461.84 L660.96 461.35 L660.96 461.87 L660.96 460.56 L660.96 460.76 L661.17 461.47 L661.17 462.41 L661.17 460.82 L661.38 462.96 L661.38 461.16 L661.59 462.84 L661.59 461.30 L661.80 462.95 L661.80 461.10 L662.00 463.44 L662.00 461.14 L662.21 462.83 L662.21 461.95 L662.42 462.28 L662.42 463.08 L662.42 462.01 L662.42 462.30 L662.62 462.90 L662.62 462.26 L662.62 463.36 L662.83 463.46 L662.83 463.94 L662.83 462.51 L663.03 464.11 L663.03 462.28 L663.24 463.45 L663.24 464.18 L663.24 463.02 L663.24 463.79 L663.45 463.26 L663.45 463.95 L663.45 462.70 L663.45 463.59 L663.65 464.26 L663.65 463.13 L663.85 463.80 L663.85 465.06 L663.85 462.96 L663.85 463.27 L664.06 463.58 L664.06 463.05 L664.06 464.37 L664.26 464.94 L664.26 463.54 L664.47 464.19 L664.47 464.82 L664.47 463.61 L664.67 465.41 L664.67 463.93 L664.87 465.02 L664.87 464.26 L665.07 465.64 L665.07 466.01 L665.07 464.16 L665.07 464.52 L665.28 465.29 L665.28 464.30 L665.48 465.58 L665.48 464.05 L665.68 465.35 L665.68 466.21 L665.68 464.59 L665.88 465.66 L665.88 465.19 L665.88 465.88 L666.08 465.74 L666.08 464.98 L666.08 466.20 L666.28 465.56 L666.28 465.08 L666.28 466.46 L666.28 465.30 L666.48 466.32 L666.48 465.28 L666.48 466.63 L666.48 465.85 L666.68 465.33 L666.68 466.73 L666.88 465.79 L666.88 465.46 L666.88 467.18 L667.08 465.82 L667.08 467.14 L667.28 465.94 L667.28 467.70 L667.48 467.90 L667.48 466.24 L667.68 467.40 L667.68 467.94 L667.68 466.32 L667.88 467.70 L667.88 466.68 L667.88 468.06 L668.08 466.99 L668.08 466.79 L668.08 468.07 L668.28 467.39 L668.28 466.70 L668.28 467.91 L668.47 466.87 L668.47 468.39 L668.67 467.62 L668.67 469.05 L668.67 466.89 L668.67 468.01 L668.87 468.18 L668.87 468.98 L668.87 466.98 L669.06 469.38 L669.06 467.13 L669.26 469.52 L669.26 467.78 L669.46 469.13 L669.46 469.67 L669.46 467.38 L669.65 469.38 L669.65 468.07 L669.85 469.81 L669.85 468.41 L670.04 469.88 L670.04 468.20 L670.24 470.15 L670.24 468.40 L670.43 469.98 L670.43 468.29 L670.63 469.91 L670.63 468.57 L670.82 470.47 L670.82 468.61 L671.02 470.77 L671.02 469.36 L671.21 469.83 L671.21 470.54 L671.21 469.47 L671.40 470.49 L671.40 468.93 L671.60 469.55 L671.60 470.80 L671.79 469.92 L671.79 471.29 L671.98 469.89 L671.98 471.40 L672.17 469.97 L672.17 471.47 L672.36 470.84 L672.36 469.82 L672.36 471.34 L672.56 470.68 L672.56 472.23 L672.75 472.31 L672.75 470.03 L672.94 472.10 L672.94 470.17 L673.13 471.20 L673.13 472.59 L673.13 470.69 L673.13 471.96 L673.32 471.21 L673.32 472.84 L673.32 470.78 L673.51 471.85 L673.51 471.09 L673.51 472.25 L673.51 472.00 L673.70 471.59 L673.70 472.83 L673.89 473.21 L673.89 471.00 L674.08 472.92 L674.08 472.03 L674.27 472.56 L674.27 473.33 L674.27 472.16 L674.27 472.38 L674.46 473.15 L674.46 471.52 L674.65 473.32 L674.65 473.52 L674.65 472.50 L674.83 472.39 L674.83 473.59 L675.02 471.93 L675.02 474.29 L675.21 473.14 L675.21 472.88 L675.21 473.84 L675.40 473.04 L675.40 472.87 L675.40 473.86 L675.59 472.80 L675.59 474.07 L675.77 474.32 L675.77 473.20 L675.96 474.79 L675.96 473.31 L676.15 474.30 L676.15 474.51 L676.15 473.39 L676.33 474.44 L676.33 475.25 L676.33 473.19 L676.52 475.06 L676.52 473.13 L676.70 474.12 L676.70 474.63 L676.70 473.42 L676.70 473.67 L676.89 473.80 L676.89 475.55 L676.89 473.09 L677.08 474.31 L677.08 474.94 L677.08 473.32 L677.08 474.68 L677.26 475.14 L677.26 473.70 L677.45 474.00 L677.45 475.68 L677.63 475.09 L677.63 473.54 L677.63 475.47 L677.81 474.13 L677.81 476.07 L678.00 474.56 L678.00 474.07 L678.00 475.60 L678.00 474.66 L678.18 473.77 L678.18 476.02 L678.37 474.59 L678.37 476.13 L678.55 475.94 L678.55 474.67 L678.73 475.64 L678.73 476.04 L678.73 474.48 L678.91 476.70 L678.91 474.13 L679.10 476.00 L679.10 474.23 L679.28 476.67 L679.28 474.58 L679.46 475.37 L679.46 474.79 L679.46 476.26 L679.46 475.64 L679.64 474.47 L679.64 476.56 L679.83 475.08 L679.83 476.99 L680.01 475.32 L680.01 476.73 L680.19 476.42 L680.19 475.34 L680.19 476.72 L680.19 475.85 L680.37 475.32 L680.37 476.66 L680.55 475.41 L680.55 476.90 L680.73 475.54 L680.73 475.09 L680.73 477.57 L680.91 475.40 L680.91 477.07 L681.09 475.14 L681.09 477.75 L681.27 475.83 L681.27 477.17 L681.45 476.63 L681.45 476.18 L681.45 477.36 L681.45 476.79 L681.63 475.28 L681.63 477.32 L681.81 475.62 L681.81 477.57 L681.99 477.34 L681.99 475.25 L682.16 477.73 L682.16 475.22 L682.34 476.63 L682.34 477.35 L682.34 476.08 L682.52 476.14 L682.52 477.63 L682.52 475.45 L682.70 477.82 L682.70 475.57 L682.87 477.00 L682.87 475.54 L682.87 477.46 L682.87 475.91 L683.05 475.98 L683.05 475.03 L683.05 477.20 L683.05 476.31 L683.23 477.00 L683.23 477.57 L683.23 475.15 L683.41 477.28 L683.41 475.13 L683.58 476.92 L683.58 475.01 L683.76 477.22 L683.76 475.20 L683.94 475.92 L683.94 476.84 L683.94 475.20 L683.94 475.52 L684.11 476.81 L684.11 474.68 L684.29 476.47 L684.29 477.02 L684.29 475.08 L684.29 476.10 L684.46 477.05 L684.46 474.37 L684.64 477.14 L684.64 474.87 L684.81 474.93 L684.81 476.79 L684.99 476.47 L684.99 474.55 L684.99 477.01 L685.16 475.87 L685.16 474.84 L685.16 477.08 L685.34 474.68 L685.34 477.22 L685.51 474.80 L685.51 477.22 L685.68 474.97 L685.68 476.99 L685.86 474.47 L685.86 476.43 L686.03 474.67 L686.03 476.45 L686.20 474.82 L686.20 476.39 L686.38 476.11 L686.38 475.31 L686.38 476.41 L686.55 475.95 L686.55 475.16 L686.55 476.48 L686.72 476.58 L686.72 475.75 L686.72 476.95 L686.72 476.50 L686.89 476.13 L686.89 477.12 L687.07 476.18 L687.07 477.66 L687.24 476.69 L687.24 477.92 L687.41 476.87 L687.41 476.74 L687.41 477.34 L687.41 476.83 L687.58 477.09 L687.58 477.99 L687.58 476.84 L687.58 477.01 L687.75 477.60 L687.75 478.33 L687.75 476.70 L687.92 477.53 L687.92 477.94 L688.09 477.98 L688.09 477.43 L688.09 479.05 L688.09 478.52 L688.26 479.02 L688.26 478.25 L688.26 479.28 L688.43 478.19 L688.43 478.78 L688.60 478.25 L688.60 479.15 L688.77 479.07 L688.77 479.93 L688.94 479.25 L688.94 479.69 L688.94 478.66 L689.11 479.56 L689.11 479.72 L689.11 479.03 L689.28 480.26 L689.28 479.56 L689.45 480.39 L689.45 479.92 L689.45 480.52 L689.45 480.15 L689.62 479.88 L689.62 481.35 L689.79 480.73 L689.79 480.62 L689.79 481.07 L689.96 481.14 L689.96 480.24 L689.96 481.37 L690.13 481.27 L690.13 481.14 L690.13 481.84 L690.29 481.17 L690.29 482.11 L690.46 481.67 L690.46 482.16 L690.63 482.27 L690.63 481.46 L690.63 482.62 L690.63 481.84 L690.80 481.41 L690.80 483.02 L690.96 482.71 L690.96 481.80 L690.96 483.05 L690.96 482.81 L691.13 483.04 L691.13 481.78 L691.13 483.67 L691.13 482.79 L691.30 482.75 L691.30 483.28 L691.46 483.31 L691.46 483.82 L691.46 482.74 L691.63 483.92 L691.63 482.36 L691.80 484.25 L691.80 483.27 L691.96 483.78 L691.96 484.43 L691.96 483.27 L692.13 484.41 L692.13 483.53 L692.29 484.26 L692.29 485.13 L692.29 483.32 L692.46 485.24 L692.46 483.25 L692.62 484.45 L692.62 484.77 L692.62 484.24 L692.79 484.73 L692.79 485.11 L692.79 483.94 L692.95 485.18 L692.95 485.44 L692.95 484.14 L693.12 485.71 L693.12 486.04 L693.12 484.36 L693.28 485.64 L693.28 484.25 L693.45 485.33 L693.45 485.98 L693.45 484.95 L693.61 485.73 L693.61 486.56 L693.61 484.51 L693.77 485.50 L693.77 486.45 L693.77 485.17 L693.94 486.10 L693.94 484.89 L693.94 486.34 L693.94 485.66 L694.10 486.30 L694.10 485.45 L694.10 486.92 L694.26 485.69 L694.26 486.66 L694.43 486.01 L694.43 486.53 L694.59 485.45 L694.59 487.39 L694.75 486.55 L694.75 486.14 L694.75 487.53 L694.75 486.36 L694.91 485.98 L694.91 487.66 L695.08 486.19 L695.08 487.29 L695.24 487.15 L695.24 486.02 L695.24 488.14 L695.40 486.33 L695.40 487.86 L695.56 487.03 L695.56 487.88 L695.72 487.09 L695.72 488.40 L695.88 488.50 L695.88 487.32 L696.04 487.20 L696.04 488.55 L696.04 486.92 L696.21 487.95 L696.21 488.84 L696.21 487.70 L696.21 488.08 L696.37 488.56 L696.37 487.36 L696.53 488.23 L696.53 489.26 L696.53 488.02 L696.69 488.12 L696.69 489.47 L696.69 487.61 L696.69 488.91 L696.85 488.60 L696.85 489.75 L696.85 487.96 L697.01 489.78 L697.01 488.25 L697.17 489.30 L697.17 489.98 L697.17 488.44 L697.33 488.56 L697.33 490.30 L697.48 488.76 L697.48 489.93 L697.64 489.18 L697.64 489.81 L697.80 488.68 L697.80 490.38 L697.96 490.04 L697.96 490.64 L697.96 489.56 L698.12 489.65 L698.12 491.12 L698.12 489.07 L698.28 490.82 L698.28 489.13 L698.44 490.91 L698.44 489.30 L698.59 490.12 L698.59 491.12 L698.59 489.37 L698.59 490.12 L698.75 491.13 L698.75 489.75 L698.91 491.75 L698.91 489.92 L699.07 491.78 L699.07 490.35 L699.22 490.93 L699.22 490.71 L699.22 491.44 L699.22 491.04 L699.38 491.28 L699.38 491.52 L699.38 490.40 L699.54 491.45 L699.54 491.89 L699.54 491.16 L699.54 491.76 L699.69 491.04 L699.69 492.00 L699.69 490.63 L699.85 492.03 L699.85 491.01 L700.01 492.79 L700.01 491.39 L700.16 493.07 L700.16 490.69 L700.32 492.66 L700.32 492.93 L700.32 491.66 L700.47 491.91 L700.47 491.16 L700.47 493.39 L700.63 491.29 L700.63 493.39 L700.79 491.96 L700.79 491.61 L700.79 493.67 L700.94 493.28 L700.94 491.71 L700.94 493.60 L700.94 493.07 L701.10 492.21 L701.10 493.56 L701.25 491.62 L701.25 493.59 L701.41 492.61 L701.41 493.30 L701.41 491.88 L701.41 492.69 L701.56 493.65 L701.56 491.70 L701.71 493.03 L701.71 493.64 L701.71 492.02 L701.87 491.85 L701.87 494.06 L702.02 491.66 L702.02 493.78 L702.18 491.80 L702.18 493.46 L702.33 493.62 L702.33 491.70 L702.48 493.55 L702.48 491.90 L702.64 492.45 L702.64 491.95 L702.64 492.88 L702.79 493.15 L702.79 491.41 L702.94 492.40 L702.94 493.15 L702.94 491.77 L703.10 491.66 L703.10 492.91 L703.25 491.63 L703.25 492.52 L703.25 491.18 L703.40 491.09 L703.40 493.13 L703.55 491.87 L703.55 492.46 L703.55 491.54 L703.70 492.72 L703.70 492.11 L703.86 492.70 L703.86 492.64 L704.01 492.72 L704.01 492.68 L704.01 492.75 L704.01 492.72 L704.16 493.07 L704.16 493.24 L704.31 493.50 L704.31 493.70 L704.31 493.25 L704.46 493.90 L704.46 494.11 L704.46 493.85 L704.61 494.10 L704.61 493.86 L704.76 494.46 L704.76 494.34 L704.76 494.52 L704.91 494.71 L704.91 494.56 L704.91 494.98 L705.07 494.50 L705.07 494.42 L705.07 494.88 L705.07 494.55 L705.22 494.89 L705.22 495.97 L705.37 495.38 L705.37 495.27 L705.37 495.91 L705.37 495.62 L705.52 495.27 L705.52 495.89 L705.67 495.56 L705.67 495.34 L705.67 496.48 L705.82 495.26 L705.82 496.62 L705.96 496.01 L705.96 496.50 L706.11 495.68 L706.11 496.55 L706.26 496.15 L706.26 496.78 L706.41 497.16 L706.41 496.06 L706.56 496.91 L706.56 497.07 L706.56 496.76 L706.71 496.51 L706.71 497.69 L706.86 497.84 L706.86 496.90 L706.86 498.13 L706.86 497.76 L707.01 497.19 L707.01 498.36 L707.15 497.42 L707.15 498.18 L707.15 497.06 L707.30 497.64 L707.30 498.38 L707.30 497.16 L707.45 498.39 L707.45 498.69 L707.45 497.58 L707.45 498.29 L707.60 498.52 L707.60 499.24 L707.60 497.89 L707.75 497.21 L707.75 498.92 L707.89 497.50 L707.89 498.90 L708.04 498.77 L708.04 498.11 L708.04 499.24 L708.19 498.43 L708.19 497.92 L708.19 499.38 L708.33 498.77 L708.33 498.38 L708.33 499.16 L708.48 498.34 L708.48 499.30 L708.63 498.84 L708.63 498.59 L708.63 499.90 L708.63 499.24 L708.77 498.25 L708.77 499.74 L708.92 499.39 L708.92 498.74 L708.92 500.01 L708.92 499.24 L709.07 499.21 L709.07 498.82 L709.07 500.35 L709.07 499.25 L709.21 499.40 L709.21 498.80 L709.21 500.05 L709.21 499.19 L709.36 499.49 L709.36 499.04 L709.36 500.55 L709.50 498.90 L709.50 500.94 L709.65 499.10 L709.65 500.27 L709.79 498.98 L709.79 500.85 L709.94 499.50 L709.94 501.09 L710.08 500.71 L710.08 499.13 L710.08 501.34 L710.08 499.68 L710.23 500.01 L710.23 501.32 L710.37 499.94 L710.37 501.33 L710.52 499.65 L710.52 501.74 L710.66 500.56 L710.66 500.11 L710.66 501.62 L710.81 500.83 L710.81 500.24 L710.81 501.76 L710.95 501.19 L710.95 500.50 L710.95 501.96 L711.10 500.30 L711.10 501.42 L711.24 500.67 L711.24 502.34 L711.38 500.87 L711.38 500.11 L711.38 501.75 L711.53 500.35 L711.53 502.00 L711.67 502.03 L711.67 502.51 L711.67 500.52 L711.81 502.03 L711.81 501.10 L711.81 502.24 L711.81 502.02 L711.96 501.01 L711.96 500.76 L711.96 502.21 L712.10 501.07 L712.10 502.21 L712.24 501.51 L712.24 503.18 L712.38 501.42 L712.38 500.85 L712.38 502.71 L712.53 501.37 L712.53 503.38 L712.67 501.41 L712.67 502.69 L712.81 501.69 L712.81 501.16 L712.81 503.27 L712.81 501.54 L712.95 501.85 L712.95 503.67 L712.95 501.38 L713.09 503.56 L713.09 501.92 L713.24 503.93 L713.24 501.99 L713.38 503.23 L713.38 503.80 L713.38 501.94 L713.38 503.31 L713.52 502.61 L713.52 503.64 L713.52 502.05 L713.52 502.85 L713.66 502.80 L713.66 503.56 L713.66 501.79 L713.80 502.57 L713.80 504.07 L713.80 502.30 L713.80 502.69 L713.94 504.10 L713.94 502.03 L714.08 504.17 L714.08 502.94 L714.22 503.95 L714.22 502.85 L714.36 504.74 L714.36 502.73 L714.50 503.51 L714.50 504.01 L714.50 502.52 L714.64 504.93 L714.64 503.29 L714.78 504.88 L714.78 503.46 L714.92 504.03 L714.92 503.09 L714.92 504.52 L714.92 503.53 L715.06 503.19 L715.06 502.94 L715.06 504.46 L715.06 503.34 L715.20 504.52 L715.20 503.75 L715.20 505.14 L715.34 503.50 L715.34 505.38 L715.48 503.87 L715.48 505.28 L715.62 505.04 L715.62 503.60 L715.62 505.30 L715.76 504.65 L715.76 505.68 L715.76 503.62 L715.76 505.36 L715.90 505.17 L715.90 503.96 L716.04 506.00 L716.04 504.65 L716.18 505.35 L716.18 505.55 L716.18 504.32 L716.18 504.96 L716.31 505.69 L716.31 504.12 L716.45 506.26 L716.45 504.87 L716.59 505.92 L716.59 504.26 L716.73 506.01 L716.73 505.14 L716.87 506.87 L716.87 505.41 L717.01 506.93 L717.01 505.18 L717.14 506.80 L717.14 505.22 L717.28 505.98 L717.28 506.78 L717.28 504.94 L717.42 505.06 L717.42 507.23 L717.55 506.66 L717.55 505.22 L717.69 506.74 L717.69 507.30 L717.69 505.77 L717.83 506.37 L717.83 505.49 L717.83 507.29 L717.97 507.38 L717.97 505.78 L717.97 507.81 L718.10 507.20 L718.10 506.31 L718.10 507.39 L718.10 507.03 L718.24 506.97 L718.24 505.86 L718.24 507.86 L718.37 506.15 L718.37 508.07 L718.51 507.16 L718.51 506.34 L718.51 507.75 L718.51 506.61 L718.65 507.28 L718.65 506.74 L718.65 507.64 L718.78 508.56 L718.78 506.80 L718.92 508.31 L718.92 506.53 L719.05 508.15 L719.05 506.65 L719.19 508.83 L719.19 506.96 L719.33 508.35 L719.33 508.88 L719.33 506.74 L719.33 507.69 L719.46 508.07 L719.46 508.41 L719.46 507.66 L719.60 507.46 L719.60 508.43 L719.73 507.69 L719.73 509.18 L719.87 508.15 L719.87 507.69 L719.87 508.96 L719.87 508.47 L720.00 507.72 L720.00 509.05" fill="none" stroke="#0000ff" stroke-width="1.55" stroke-linejoin="round" stroke-linecap="square" clip-path="url(#c2)"/>
<path d="M100.0 504.5 H720.0" stroke="#000" stroke-width="0.7" stroke-dasharray="1.39 4.17" stroke-dashoffset="-0.5" fill="none"/>
<path d="M100.0 467.5 H720.0" stroke="#000" stroke-width="0.7" stroke-dasharray="1.39 4.17" stroke-dashoffset="-0.5" fill="none"/>
<path d="M100.0 431.5 H720.0" stroke="#000" stroke-width="0.7" stroke-dasharray="1.39 4.17" stroke-dashoffset="-0.5" fill="none"/>
<path d="M100.0 395.5 H720.0" stroke="#000" stroke-width="0.7" stroke-dasharray="1.39 4.17" stroke-dashoffset="-0.5" fill="none"/>
<path d="M100.0 358.5 H720.0" stroke="#000" stroke-width="0.7" stroke-dasharray="1.39 4.17" stroke-dashoffset="-0.5" fill="none"/>
<path d="M410.5 540.0 V321.8" stroke="#000" stroke-width="0.7" stroke-dasharray="1.39 4.17" fill="none"/>
<path d="M100.0 540.5 h5.56 M720.0 540.5 h-5.56 M100.0 504.5 h5.56 M720.0 504.5 h-5.56 M100.0 467.5 h5.56 M720.0 467.5 h-5.56 M100.0 431.5 h5.56 M720.0 431.5 h-5.56 M100.0 395.5 h5.56 M720.0 395.5 h-5.56 M100.0 358.5 h5.56 M720.0 358.5 h-5.56 M100.0 322.5 h5.56 M720.0 322.5 h-5.56 M100.5 540.00 v-5.56 M100.5 321.82 v5.56 M410.5 540.00 v-5.56 M410.5 321.82 v5.56 M720.5 540.00 v-5.56 M720.5 321.82 v5.56 M193.5 540.00 v-2.78 M193.5 321.82 v2.78 M248.5 540.00 v-2.78 M248.5 321.82 v2.78 M287.5 540.00 v-2.78 M287.5 321.82 v2.78 M317.5 540.00 v-2.78 M317.5 321.82 v2.78 M341.5 540.00 v-2.78 M341.5 321.82 v2.78 M362.5 540.00 v-2.78 M362.5 321.82 v2.78 M380.5 540.00 v-2.78 M380.5 321.82 v2.78 M396.5 540.00 v-2.78 M396.5 321.82 v2.78 M503.5 540.00 v-2.78 M503.5 321.82 v2.78 M558.5 540.00 v-2.78 M558.5 321.82 v2.78 M597.5 540.00 v-2.78 M597.5 321.82 v2.78 M627.5 540.00 v-2.78 M627.5 321.82 v2.78 M651.5 540.00 v-2.78 M651.5 321.82 v2.78 M672.5 540.00 v-2.78 M672.5 321.82 v2.78 M690.5 540.00 v-2.78 M690.5 321.82 v2.78 M706.5 540.00 v-2.78 M706.5 321.82 v2.78" stroke="#000" stroke-width="0.7" fill="none"/>
<rect x="100.5" y="322.5" width="620.0" height="218.0" fill="none" stroke="#000" stroke-width="1.5"/>
<text transform="translate(94.4 544.9) scale(0.95 1.05)" text-anchor="end" class="t">−150</text>
<text transform="translate(94.4 508.9) scale(0.95 1.05)" text-anchor="end" class="t">−100</text>
<text transform="translate(94.4 471.9) scale(0.95 1.05)" text-anchor="end" class="t">−50</text>
<text transform="translate(94.4 435.9) scale(0.95 1.05)" text-anchor="end" class="t">0</text>
<text transform="translate(94.4 399.9) scale(0.95 1.05)" text-anchor="end" class="t">50</text>
<text transform="translate(94.4 362.9) scale(0.95 1.05)" text-anchor="end" class="t">100</text>
<text transform="translate(94.4 326.9) scale(0.95 1.05)" text-anchor="end" class="t">150</text>
<text transform="translate(100.9 562.0) scale(0.96 1.05)" text-anchor="middle" class="t">10<tspan dy="-6.6" dx="1.8" font-size="11.67">1</tspan></text>
<text transform="translate(410.9 562.0) scale(0.96 1.05)" text-anchor="middle" class="t">10<tspan dy="-6.6" dx="1.8" font-size="11.67">2</tspan></text>
<text transform="translate(720.9 562.0) scale(0.96 1.05)" text-anchor="middle" class="t">10<tspan dy="-6.6" dx="1.8" font-size="11.67">3</tspan></text>
<text transform="translate(410.8 586.4) scale(1.013 1.05)" text-anchor="middle" class="t">Frequency [Hz]</text>
<text transform="translate(37.8 432.2) rotate(-90) scale(1.013 1.05)" text-anchor="middle" class="t">Phase [degree]</text>
</svg>
</body></html>
